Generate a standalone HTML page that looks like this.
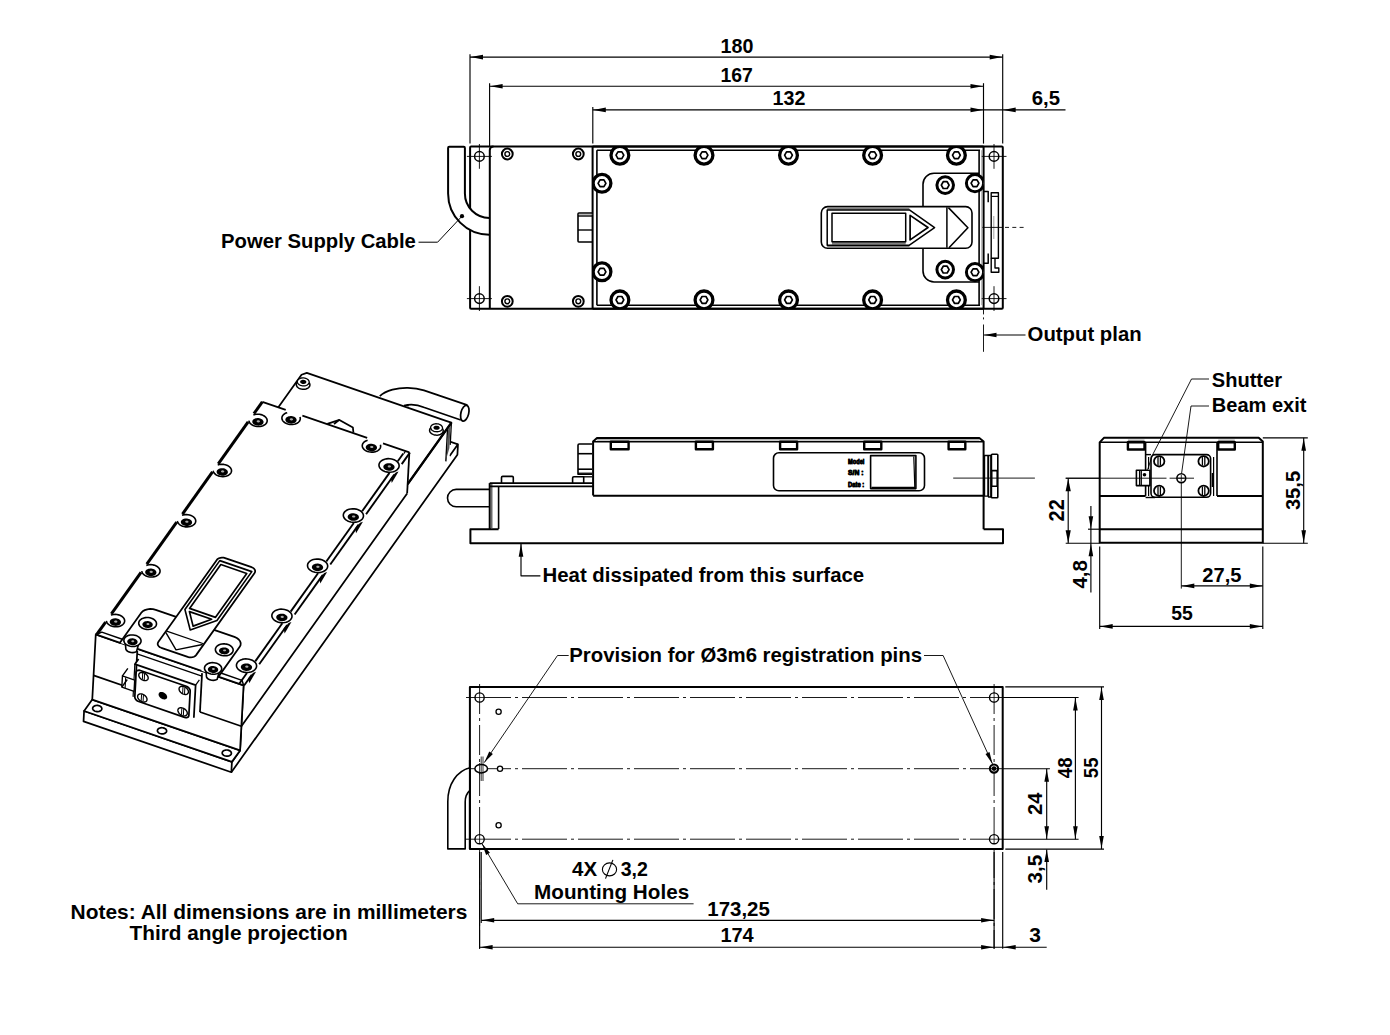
<!DOCTYPE html>
<html><head><meta charset="utf-8"><style>
html,body{margin:0;padding:0;background:#fff;}
svg{display:block;}
text{font-family:"Liberation Sans",sans-serif;fill:#000;stroke:none;}
</style></head><body>
<svg width="1390" height="1035" viewBox="0 0 1390 1035" stroke="#000" fill="none" stroke-linecap="butt" stroke-linejoin="round">
<rect x="0" y="0" width="1390" height="1035" fill="#fff" stroke="none"/>
<text x="720.5" y="52.6" font-size="21" font-weight="bold" textLength="32.84" lengthAdjust="spacingAndGlyphs">180</text>
<text x="720.5" y="81.6" font-size="21" font-weight="bold" textLength="32.34" lengthAdjust="spacingAndGlyphs">167</text>
<text x="772.5" y="105.4" font-size="21" font-weight="bold" textLength="32.84" lengthAdjust="spacingAndGlyphs">132</text>
<text x="1031.7" y="105.4" font-size="21" font-weight="bold" textLength="28.29" lengthAdjust="spacingAndGlyphs">6,5</text>
<text x="221.1" y="248" font-size="21" font-weight="bold" textLength="194.78" lengthAdjust="spacingAndGlyphs">Power Supply Cable</text>
<text x="1027.6" y="340.6" font-size="21" font-weight="bold" textLength="114.01" lengthAdjust="spacingAndGlyphs">Output plan</text>
<text x="1211.8" y="387" font-size="21" font-weight="bold" textLength="70.2" lengthAdjust="spacingAndGlyphs">Shutter</text>
<text x="1211.8" y="412" font-size="21" font-weight="bold" textLength="94.62" lengthAdjust="spacingAndGlyphs">Beam exit</text>
<text x="542.5" y="581.9" font-size="21" font-weight="bold" textLength="321.64" lengthAdjust="spacingAndGlyphs">Heat dissipated from this surface</text>
<text x="1202.3" y="581.8" font-size="21" font-weight="bold" textLength="39.17" lengthAdjust="spacingAndGlyphs">27,5</text>
<text x="1171.2" y="619.7" font-size="21" font-weight="bold" textLength="21.56" lengthAdjust="spacingAndGlyphs">55</text>
<text x="569.3" y="661.8" font-size="21" font-weight="bold" textLength="352.68" lengthAdjust="spacingAndGlyphs">Provision for Ø3m6 registration pins</text>
<text x="572.1" y="876" font-size="21" font-weight="bold" textLength="24.99" lengthAdjust="spacingAndGlyphs">4X</text>
<text x="620.7" y="876" font-size="21" font-weight="bold" textLength="27.19" lengthAdjust="spacingAndGlyphs">3,2</text>
<ellipse cx="609.5" cy="869.4" rx="7.1" ry="6.5" stroke-width="1.1" fill="none" />
<line x1="612.9" y1="859.9" x2="605.5" y2="878.6" stroke-width="1.1" />
<text x="534.1" y="899" font-size="21" font-weight="bold" textLength="155.08" lengthAdjust="spacingAndGlyphs">Mounting Holes</text>
<text x="707.3" y="915.5" font-size="21" font-weight="bold" textLength="62.53" lengthAdjust="spacingAndGlyphs">173,25</text>
<text x="720.4" y="942.3" font-size="21" font-weight="bold" textLength="33.34" lengthAdjust="spacingAndGlyphs">174</text>
<text x="1029.2" y="942.3" font-size="21" font-weight="bold">3</text>
<text x="70.6" y="919.3" font-size="21" font-weight="bold" textLength="396.74" lengthAdjust="spacingAndGlyphs">Notes: All dimensions are in millimeters</text>
<text x="129.5" y="939.8" font-size="21" font-weight="bold" textLength="218.12" lengthAdjust="spacingAndGlyphs">Third angle projection</text>
<text transform="translate(1299.7 510.1) rotate(-90)" x="0" y="0" font-size="21" font-weight="bold" textLength="39.17" lengthAdjust="spacingAndGlyphs">35,5</text>
<text transform="translate(1063.6 521.5) rotate(-90)" x="0" y="0" font-size="22" font-weight="bold" textLength="22.27" lengthAdjust="spacingAndGlyphs">22</text>
<text transform="translate(1087.3 588.6) rotate(-90)" x="0" y="0" font-size="21" font-weight="bold" textLength="28.59" lengthAdjust="spacingAndGlyphs">4,8</text>
<text transform="translate(1072.2 778.2) rotate(-90)" x="0" y="0" font-size="21" font-weight="bold" textLength="20.66" lengthAdjust="spacingAndGlyphs">48</text>
<text transform="translate(1097.7 778.2) rotate(-90)" x="0" y="0" font-size="21" font-weight="bold" textLength="20.66" lengthAdjust="spacingAndGlyphs">55</text>
<text transform="translate(1041.9 814.9) rotate(-90)" x="0" y="0" font-size="21" font-weight="bold" textLength="22.36" lengthAdjust="spacingAndGlyphs">24</text>
<text transform="translate(1041.9 883.4) rotate(-90)" x="0" y="0" font-size="21" font-weight="bold" textLength="28.69" lengthAdjust="spacingAndGlyphs">3,5</text>
<line x1="470" y1="54.2" x2="470" y2="143.6" stroke-width="1.15" />
<line x1="1002.7" y1="54.2" x2="1002.7" y2="143.6" stroke-width="1.15" />
<line x1="470" y1="57.1" x2="1002.7" y2="57.1" stroke-width="1.15" />
<path d="M470.5 57.1 L483 54.8 L483 59.4 Z" fill="#000" stroke="none"/>
<path d="M1002.2 57.1 L989.7 59.4 L989.7 54.8 Z" fill="#000" stroke="none"/>
<line x1="489.6" y1="83.2" x2="489.6" y2="146" stroke-width="1.15" />
<line x1="983.5" y1="83.2" x2="983.5" y2="143.6" stroke-width="1.15" />
<line x1="489.6" y1="86.2" x2="983.5" y2="86.2" stroke-width="1.15" />
<path d="M490.1 86.2 L502.6 83.9 L502.6 88.5 Z" fill="#000" stroke="none"/>
<path d="M983 86.2 L970.5 88.5 L970.5 83.9 Z" fill="#000" stroke="none"/>
<line x1="592.8" y1="107" x2="592.8" y2="143.6" stroke-width="1.15" />
<line x1="592.8" y1="109.9" x2="1065.5" y2="109.9" stroke-width="1.15" />
<path d="M593.3 109.9 L605.8 107.6 L605.8 112.2 Z" fill="#000" stroke="none"/>
<path d="M983 109.9 L970.5 112.2 L970.5 107.6 Z" fill="#000" stroke="none"/>
<path d="M1003.2 109.9 L1015.7 107.6 L1015.7 112.2 Z" fill="#000" stroke="none"/>
<rect x="470.1" y="146.5" width="532.7" height="162.3" rx="1" stroke-width="2" fill="none" />
<path d="M448.1 148 Q448.1 146.8 449.3 146.8 L463.7 146.8 Q464.9 146.8 464.9 148 L464.9 193.5 A24.4 24.4 0 0 0 489.3 217.9 L489.3 234.7 A41.2 41.2 0 0 1 448.1 193.5 Z" stroke-width="0" fill="#fff" stroke="none"/>
<path d="M489.3 234.7 A41.2 41.2 0 0 1 448.1 193.5 L448.1 148 Q448.1 146.8 449.3 146.8 L463.7 146.8 Q464.9 146.8 464.9 148 L464.9 193.5 A24.4 24.4 0 0 0 489.3 217.9" stroke-width="2" fill="none" />
<circle cx="462" cy="216.2" r="2.1" stroke-width="0" fill="#000" stroke="none"/>
<path d="M462 216.2 L437.6 242.2 L418.5 242.2" stroke-width="1" fill="none" />
<path d="M489.8 308.5 L489.8 150 Q490 146.6 493.5 146.6" stroke-width="2" fill="none" />
<line x1="592.6" y1="146.4" x2="592.6" y2="308.6" stroke-width="2" />
<circle cx="479.4" cy="156.4" r="4.8" stroke-width="1.5" fill="none" />
<line x1="466.9" y1="156.4" x2="491.9" y2="156.4" stroke-width="0.9" />
<line x1="479.4" y1="144" x2="479.4" y2="168.8" stroke-width="0.9" />
<circle cx="479.4" cy="298.6" r="4.8" stroke-width="1.5" fill="none" />
<line x1="466.9" y1="298.6" x2="491.9" y2="298.6" stroke-width="0.9" />
<line x1="479.4" y1="286.2" x2="479.4" y2="311" stroke-width="0.9" />
<circle cx="994" cy="156.4" r="4.8" stroke-width="1.5" fill="none" />
<line x1="981.5" y1="156.4" x2="1006.5" y2="156.4" stroke-width="0.9" />
<line x1="994" y1="144" x2="994" y2="168.8" stroke-width="0.9" />
<circle cx="994" cy="298.6" r="4.8" stroke-width="1.5" fill="none" />
<line x1="981.5" y1="298.6" x2="1006.5" y2="298.6" stroke-width="0.9" />
<line x1="994" y1="286.2" x2="994" y2="311" stroke-width="0.9" />
<circle cx="507.3" cy="154" r="5.4" stroke-width="2" fill="none" />
<circle cx="507.3" cy="154" r="2.4" stroke-width="1.4" fill="none" />
<circle cx="507.3" cy="301.3" r="5.4" stroke-width="2" fill="none" />
<circle cx="507.3" cy="301.3" r="2.4" stroke-width="1.4" fill="none" />
<circle cx="578.3" cy="154" r="5.4" stroke-width="2" fill="none" />
<circle cx="578.3" cy="154" r="2.4" stroke-width="1.4" fill="none" />
<circle cx="578.3" cy="301.3" r="5.4" stroke-width="2" fill="none" />
<circle cx="578.3" cy="301.3" r="2.4" stroke-width="1.4" fill="none" />
<path d="M592.5 213 L579 213 Q578 213 578 214 L578 241 Q578 242 579 242 L592.5 242" stroke-width="1.6" fill="none" />
<line x1="578" y1="216" x2="592.5" y2="216" stroke-width="1.4" />
<line x1="578" y1="230" x2="592.5" y2="230" stroke-width="1.4" />
<line x1="578.6" y1="214.4" x2="592.5" y2="214.4" stroke-width="0.6" stroke="#777"/>
<clipPath id="cv"><rect x="592.6" y="146.4" width="391" height="162.2"/></clipPath>
<line x1="596.9" y1="150.2" x2="596.9" y2="305.2" stroke-width="1.6" />
<line x1="596.9" y1="150.2" x2="980" y2="150.2" stroke-width="1.6" />
<line x1="596.9" y1="305.2" x2="980" y2="305.2" stroke-width="1.6" />
<line x1="983.6" y1="146.4" x2="983.6" y2="308.6" stroke-width="2" />
<line x1="979.1" y1="150.2" x2="979.1" y2="305.2" stroke-width="1.6" />
<line x1="981.7" y1="150.2" x2="981.7" y2="305.2" stroke-width="0.7" stroke="#888"/>
<path d="M979 173.3 L934 173.3 A11 11 0 0 0 923 184.3 L923 271 A11 11 0 0 0 934 282 L979 282" stroke-width="1.6" fill="none" />
<g clip-path="url(#cv)">
<circle cx="619.9" cy="155.2" r="8.9" stroke-width="3.3" fill="#fff" />
<path d="M623.8 155.2 L621.85 158.58 L617.95 158.58 L616 155.2 L617.95 151.82 L621.85 151.82 Z" stroke-width="1.7" fill="none" />
<circle cx="619.9" cy="299.9" r="8.9" stroke-width="3.3" fill="#fff" />
<path d="M623.8 299.9 L621.85 303.28 L617.95 303.28 L616 299.9 L617.95 296.52 L621.85 296.52 Z" stroke-width="1.7" fill="none" />
<circle cx="704" cy="155.2" r="8.9" stroke-width="3.3" fill="#fff" />
<path d="M707.9 155.2 L705.95 158.58 L702.05 158.58 L700.1 155.2 L702.05 151.82 L705.95 151.82 Z" stroke-width="1.7" fill="none" />
<circle cx="704" cy="299.9" r="8.9" stroke-width="3.3" fill="#fff" />
<path d="M707.9 299.9 L705.95 303.28 L702.05 303.28 L700.1 299.9 L702.05 296.52 L705.95 296.52 Z" stroke-width="1.7" fill="none" />
<circle cx="788.5" cy="155.2" r="8.9" stroke-width="3.3" fill="#fff" />
<path d="M792.4 155.2 L790.45 158.58 L786.55 158.58 L784.6 155.2 L786.55 151.82 L790.45 151.82 Z" stroke-width="1.7" fill="none" />
<circle cx="788.5" cy="299.9" r="8.9" stroke-width="3.3" fill="#fff" />
<path d="M792.4 299.9 L790.45 303.28 L786.55 303.28 L784.6 299.9 L786.55 296.52 L790.45 296.52 Z" stroke-width="1.7" fill="none" />
<circle cx="872.6" cy="155.2" r="8.9" stroke-width="3.3" fill="#fff" />
<path d="M876.5 155.2 L874.55 158.58 L870.65 158.58 L868.7 155.2 L870.65 151.82 L874.55 151.82 Z" stroke-width="1.7" fill="none" />
<circle cx="872.6" cy="299.9" r="8.9" stroke-width="3.3" fill="#fff" />
<path d="M876.5 299.9 L874.55 303.28 L870.65 303.28 L868.7 299.9 L870.65 296.52 L874.55 296.52 Z" stroke-width="1.7" fill="none" />
<circle cx="956.4" cy="155.2" r="8.9" stroke-width="3.3" fill="#fff" />
<path d="M960.3 155.2 L958.35 158.58 L954.45 158.58 L952.5 155.2 L954.45 151.82 L958.35 151.82 Z" stroke-width="1.7" fill="none" />
<circle cx="956.4" cy="299.9" r="8.9" stroke-width="3.3" fill="#fff" />
<path d="M960.3 299.9 L958.35 303.28 L954.45 303.28 L952.5 299.9 L954.45 296.52 L958.35 296.52 Z" stroke-width="1.7" fill="none" />
<circle cx="602" cy="183.3" r="8.9" stroke-width="3.3" fill="#fff" />
<path d="M605.9 183.3 L603.95 186.68 L600.05 186.68 L598.1 183.3 L600.05 179.92 L603.95 179.92 Z" stroke-width="1.7" fill="none" />
<circle cx="602" cy="271.8" r="8.9" stroke-width="3.3" fill="#fff" />
<path d="M605.9 271.8 L603.95 275.18 L600.05 275.18 L598.1 271.8 L600.05 268.42 L603.95 268.42 Z" stroke-width="1.7" fill="none" />
<circle cx="945.2" cy="185.1" r="8.3" stroke-width="3" fill="#fff" />
<path d="M949.1 185.1 L947.15 188.48 L943.25 188.48 L941.3 185.1 L943.25 181.72 L947.15 181.72 Z" stroke-width="1.7" fill="none" />
<circle cx="945.2" cy="269.6" r="8.3" stroke-width="3" fill="#fff" />
<path d="M949.1 269.6 L947.15 272.98 L943.25 272.98 L941.3 269.6 L943.25 266.22 L947.15 266.22 Z" stroke-width="1.7" fill="none" />
<circle cx="975" cy="183.2" r="8.6" stroke-width="3" fill="#fff" />
<path d="M978.9 183.2 L976.95 186.58 L973.05 186.58 L971.1 183.2 L973.05 179.82 L976.95 179.82 Z" stroke-width="1.7" fill="none" />
<circle cx="975" cy="272.2" r="8.6" stroke-width="3" fill="#fff" />
<path d="M978.9 272.2 L976.95 275.58 L973.05 275.58 L971.1 272.2 L973.05 268.82 L976.95 268.82 Z" stroke-width="1.7" fill="none" />
</g>
<line x1="592.6" y1="146.4" x2="983.6" y2="146.4" stroke-width="2" />
<line x1="592.6" y1="308.8" x2="983.6" y2="308.8" stroke-width="2" />
<path d="M827.6 206.6 L965.7 206.6 A6.3 6.3 0 0 1 972 212.9 L972 242 A6.3 6.3 0 0 1 965.7 248.3 L827.6 248.3 A6.3 6.3 0 0 1 821.3 242 L821.3 212.9 A6.3 6.3 0 0 1 827.6 206.6 Z" stroke-width="1.6" fill="#fff" />
<path d="M827.2 207.5 L909.4 207.5 L909.4 209.8 L827.2 209.8 Z" stroke-width="0" fill="#808080" stroke="none"/>
<path d="M827.2 245.3 L909.4 245.3 L909.4 247.5 L827.2 247.5 Z" stroke-width="0" fill="#808080" stroke="none"/>
<path d="M832 241.8 L905.7 241.8 L905.7 244.6 L832 244.6 Z" stroke-width="0" fill="#808080" stroke="none"/>
<path d="M827.2 209.9 L909.4 209.9 L934.6 227.6 L909.4 245.2 L827.2 245.2 Z" stroke-width="1.5" fill="none" />
<rect x="832" y="213.2" width="73.7" height="28.6" rx="0" stroke-width="1.5" fill="none" />
<path d="M910.1 215.4 L928 227.5 L910.1 239.9 Z" stroke-width="1.7" fill="none" />
<line x1="946.9" y1="207.2" x2="946.9" y2="247.8" stroke-width="1.5" />
<path d="M948.4 207.6 L967.9 227.7 L949 247.8" stroke-width="1.6" fill="none" />
<path d="M983.6 191.6 L988.2 191.6 L988.2 202.2" stroke-width="1.5" fill="none" />
<path d="M983.6 263.2 L988.2 263.2 L988.2 253.5" stroke-width="1.5" fill="none" />
<rect x="991.2" y="192.8" width="7.2" height="65.5" rx="0" stroke-width="1.4" fill="none" />
<line x1="991.2" y1="196.4" x2="998.4" y2="196.4" stroke-width="1.2" />
<line x1="993.8" y1="216" x2="993.8" y2="239" stroke-width="0.8" stroke="#888"/>
<path d="M991.2 258.3 L991.2 272.3 L998.8 272.3 L998.8 268 L995 268 L995 259" stroke-width="1.4" fill="none" />
<line x1="982.4" y1="227.4" x2="1003" y2="227.4" stroke-width="0.9" />
<line x1="1005" y1="227.4" x2="1025.4" y2="227.4" stroke-width="0.9" stroke-dasharray="4 3.3"/>
<line x1="983.5" y1="309" x2="983.5" y2="314.4" stroke-width="0.9" />
<line x1="983.5" y1="317.4" x2="983.5" y2="319.4" stroke-width="0.9" />
<line x1="983.5" y1="324.5" x2="983.5" y2="351.8" stroke-width="0.9" />
<path d="M984 335 L996.5 332.7 L996.5 337.3 Z" fill="#000" stroke="none"/>
<line x1="984" y1="335" x2="1025.5" y2="335" stroke-width="1.15" />
<path d="M498.6 529.2 L470.4 529.2 L470.4 543.2 L1003 543.2 L1003 529.2 L983.6 529.2" stroke-width="2" fill="none" />
<path d="M489.3 489.4 L456.2 489.4 A8.7 8.7 0 0 0 456.2 506.8 L489.3 506.8" stroke-width="1.6" fill="none" />
<path d="M489.7 529 L489.7 483.1" stroke-width="2" fill="none" />
<line x1="491.8" y1="484" x2="491.8" y2="528.6" stroke-width="1.2" stroke="#444"/>
<line x1="498.6" y1="486.3" x2="498.6" y2="529" stroke-width="1.6" />
<line x1="489.7" y1="483.1" x2="593" y2="483.1" stroke-width="1.6" />
<line x1="489.7" y1="486.4" x2="593" y2="486.4" stroke-width="1.6" />
<path d="M501.5 483.1 L501.5 477.6 Q501.5 476.4 502.7 476.4 L512.1 476.4 Q513.3 476.4 513.3 477.6 L513.3 483.1" stroke-width="1.6" fill="none" />
<path d="M572.6 483.1 L572.6 478 Q572.6 476.8 573.8 476.8 L583.7 476.8 L583.7 483.1" stroke-width="1.6" fill="none" />
<line x1="583.7" y1="476.8" x2="592.4" y2="476.8" stroke-width="1.3" />
<path d="M592 444 L579.2 444 Q578 444 578 445.2 L578 474.2 L592 474.2" stroke-width="1.6" fill="none" />
<line x1="578" y1="453.7" x2="592" y2="453.7" stroke-width="1.6" />
<line x1="578" y1="469.2" x2="592" y2="469.2" stroke-width="1.6" />
<line x1="578" y1="473.2" x2="592" y2="473.2" stroke-width="1.2" />
<path d="M593.1 495.5 L593.1 441.5 L597 437.9 L979.3 437.9 L983.6 441.6 L983.6 529.2" stroke-width="2" fill="none" />
<line x1="593.1" y1="441.8" x2="983.6" y2="441.8" stroke-width="1.6" />
<line x1="593.1" y1="495.7" x2="983.6" y2="495.7" stroke-width="2" />
<line x1="597" y1="439.9" x2="979.3" y2="439.9" stroke-width="1.2" stroke="#999"/>
<rect x="610.8" y="441.8" width="17.8" height="7.5" rx="0" stroke-width="2.4" fill="none" />
<rect x="695.9" y="441.8" width="17" height="7.5" rx="0" stroke-width="2.4" fill="none" />
<rect x="780.1" y="441.8" width="17" height="7.5" rx="0" stroke-width="2.4" fill="none" />
<rect x="864.2" y="441.8" width="17.1" height="7.5" rx="0" stroke-width="2.4" fill="none" />
<rect x="948.6" y="441.8" width="16.7" height="7.5" rx="0" stroke-width="2.4" fill="none" />
<rect x="773.5" y="452.8" width="151" height="38" rx="5.4" stroke-width="1.6" fill="none" />
<rect x="870.6" y="455.6" width="45.3" height="33" rx="0" stroke-width="1.6" fill="none" />
<line x1="913.8" y1="456.5" x2="914.8" y2="488" stroke-width="1.2" />
<line x1="871.5" y1="487.4" x2="915" y2="487.4" stroke-width="1.2" />
<text x="848" y="463.8" font-size="7.2" font-weight="bold" textLength="16.4" lengthAdjust="spacingAndGlyphs" style="stroke:#000;stroke-width:0.9;stroke-linejoin:round">Model</text>
<text x="848" y="475.4" font-size="7.2" font-weight="bold" textLength="15.4" lengthAdjust="spacingAndGlyphs" style="stroke:#000;stroke-width:0.9;stroke-linejoin:round">S/N :</text>
<text x="848" y="487.0" font-size="7.2" font-weight="bold" textLength="16.2" lengthAdjust="spacingAndGlyphs" style="stroke:#000;stroke-width:0.9;stroke-linejoin:round">Date :</text>
<rect x="984.5" y="455.5" width="3.5" height="40.6" rx="0" stroke-width="1.4" fill="none" />
<rect x="988.5" y="455.5" width="2.4" height="41.5" rx="0" stroke-width="1.4" fill="none" />
<rect x="991.4" y="454.3" width="6.4" height="43.5" rx="0.8" stroke-width="1.6" fill="none" />
<rect x="991.6" y="470.6" width="5.6" height="15.6" rx="0" stroke-width="1.6" fill="none" />
<line x1="953.2" y1="478.1" x2="1034.9" y2="478.1" stroke-width="0.9" />
<path d="M521 543.8 L523.3 556.8 L518.7 556.8 Z" fill="#000" stroke="none"/>
<path d="M521 543.8 L521 575.8 L540.4 575.8" stroke-width="1.15" fill="none" />
<path d="M1099.7 542.8 L1099.7 442.4 L1103.9 437.8 L1258.7 437.8 L1262.8 441.6 L1262.8 542.8 Z" stroke-width="2" fill="none" />
<line x1="1099.7" y1="442.3" x2="1262.8" y2="442.3" stroke-width="1.6" />
<rect x="1127.9" y="439.6" width="16.6" height="1.6" rx="0" stroke-width="0" fill="#999" stroke="none"/>
<rect x="1218.2" y="439.6" width="16.6" height="1.6" rx="0" stroke-width="0" fill="#999" stroke="none"/>
<rect x="1127.9" y="442.3" width="16.6" height="7.2" rx="0" stroke-width="2.4" fill="none" />
<rect x="1218.2" y="442.3" width="16.6" height="7.2" rx="0" stroke-width="2.4" fill="none" />
<line x1="1145.6" y1="442.3" x2="1145.6" y2="495.9" stroke-width="1.6" />
<line x1="1217" y1="442.3" x2="1217" y2="495.9" stroke-width="1.6" />
<line x1="1099.7" y1="495.9" x2="1145.6" y2="495.9" stroke-width="2" />
<line x1="1217" y1="495.9" x2="1262.8" y2="495.9" stroke-width="2" />
<line x1="1099.7" y1="529.2" x2="1262.8" y2="529.2" stroke-width="2" />
<path d="M1155 454.6 L1206.6 454.6 A4 4 0 0 1 1210.6 458.6 L1210.6 493.3 A4 4 0 0 1 1206.6 497.3 L1155 497.3 A4 4 0 0 1 1151 493.3 L1151 458.6 A4 4 0 0 1 1155 454.6 Z" stroke-width="1.6" fill="#fff" />
<line x1="1145.6" y1="454.6" x2="1151" y2="454.6" stroke-width="1.4" />
<line x1="1145.6" y1="497.5" x2="1155" y2="497.5" stroke-width="1.4" />
<line x1="1213.6" y1="457" x2="1213.6" y2="496" stroke-width="1.2" />
<line x1="1212.6" y1="473" x2="1212.6" y2="487" stroke-width="1.8" />
<line x1="1148.6" y1="457" x2="1148.6" y2="469" stroke-width="1.2" />
<line x1="1148.6" y1="486" x2="1148.6" y2="496" stroke-width="1.2" />
<circle cx="1159.2" cy="461.3" r="5.2" stroke-width="1.8" fill="#fff" />
<line x1="1158" y1="457.1" x2="1158" y2="465.5" stroke-width="1.3" />
<line x1="1160.4" y1="457.1" x2="1160.4" y2="465.5" stroke-width="1.3" />
<circle cx="1159.2" cy="490.8" r="5.2" stroke-width="1.8" fill="#fff" />
<line x1="1158" y1="486.6" x2="1158" y2="495" stroke-width="1.3" />
<line x1="1160.4" y1="486.6" x2="1160.4" y2="495" stroke-width="1.3" />
<circle cx="1203.6" cy="461.3" r="5.2" stroke-width="1.8" fill="#fff" />
<line x1="1202.4" y1="457.1" x2="1202.4" y2="465.5" stroke-width="1.3" />
<line x1="1204.8" y1="457.1" x2="1204.8" y2="465.5" stroke-width="1.3" />
<circle cx="1203.6" cy="490.8" r="5.2" stroke-width="1.8" fill="#fff" />
<line x1="1202.4" y1="486.6" x2="1202.4" y2="495" stroke-width="1.3" />
<line x1="1204.8" y1="486.6" x2="1204.8" y2="495" stroke-width="1.3" />
<rect x="1136.4" y="470.2" width="13.5" height="15.4" rx="0" stroke-width="1.6" fill="#fff" />
<line x1="1139.5" y1="471" x2="1139.5" y2="485" stroke-width="1.1" />
<line x1="1141.2" y1="470.5" x2="1141.2" y2="485.5" stroke-width="1.4" />
<circle cx="1144.5" cy="474.7" r="1.8" stroke-width="0" fill="#000" stroke="none"/>
<circle cx="1181.3" cy="478.2" r="4.4" stroke-width="1.6" fill="none" />
<line x1="1178" y1="478.2" x2="1184.6" y2="478.2" stroke-width="0.8" />
<line x1="1181.3" y1="475" x2="1181.3" y2="481.4" stroke-width="0.8" />
<line x1="1065.7" y1="478.2" x2="1166.5" y2="478.2" stroke-width="0.9" />
<line x1="1169.6" y1="478.2" x2="1194" y2="478.2" stroke-width="0.9" />
<line x1="1181.3" y1="482.6" x2="1181.3" y2="588.6" stroke-width="0.9" />
<path d="M1181.6 473.3 L1191 406 L1209 406" stroke-width="0.9" fill="none" />
<path d="M1147.6 469.8 Q1150 462 1153 454 L1166.5 428 L1191.5 379 L1209 379" stroke-width="0.9" fill="none" />
<line x1="1262.8" y1="437.8" x2="1307.8" y2="437.8" stroke-width="1.15" />
<line x1="1262.8" y1="543.2" x2="1307.8" y2="543.2" stroke-width="1.15" />
<line x1="1303.7" y1="437.8" x2="1303.7" y2="543.2" stroke-width="1.15" />
<path d="M1303.7 438.3 L1306 450.8 L1301.4 450.8 Z" fill="#000" stroke="none"/>
<path d="M1303.7 542.7 L1301.4 530.2 L1306 530.2 Z" fill="#000" stroke="none"/>
<line x1="1065.7" y1="543.2" x2="1099.7" y2="543.2" stroke-width="1.15" />
<line x1="1065.7" y1="478.2" x2="1099.7" y2="478.2" stroke-width="1.15" />
<line x1="1068.2" y1="478.2" x2="1068.2" y2="543.2" stroke-width="1.15" />
<path d="M1068.2 478.7 L1070.8 491.2 L1065.6 491.2 Z" fill="#000" stroke="none"/>
<path d="M1068.2 542.7 L1065.6 530.2 L1070.8 530.2 Z" fill="#000" stroke="none"/>
<line x1="1088" y1="529.2" x2="1099.7" y2="529.2" stroke-width="1.15" />
<line x1="1090.9" y1="506" x2="1090.9" y2="592.6" stroke-width="1.15" />
<path d="M1090.9 528.7 L1088.6 516.2 L1093.2 516.2 Z" fill="#000" stroke="none"/>
<path d="M1090.9 543.7 L1093.2 556.2 L1088.6 556.2 Z" fill="#000" stroke="none"/>
<line x1="1099.7" y1="546.6" x2="1099.7" y2="629" stroke-width="1.15" />
<line x1="1262.8" y1="546.6" x2="1262.8" y2="629" stroke-width="1.15" />
<line x1="1099.7" y1="626.4" x2="1262.8" y2="626.4" stroke-width="1.15" />
<path d="M1100.2 626.4 L1112.7 624.1 L1112.7 628.7 Z" fill="#000" stroke="none"/>
<path d="M1262.3 626.4 L1249.8 628.7 L1249.8 624.1 Z" fill="#000" stroke="none"/>
<line x1="1181.3" y1="585.9" x2="1262.8" y2="585.9" stroke-width="1.15" />
<path d="M1181.8 585.9 L1194.3 583.6 L1194.3 588.2 Z" fill="#000" stroke="none"/>
<path d="M1262.3 585.9 L1249.8 588.2 L1249.8 583.6 Z" fill="#000" stroke="none"/>
<rect x="469.9" y="686.9" width="532.8" height="162.2" rx="0" stroke-width="2" fill="none" />
<line x1="466" y1="697.5" x2="1003" y2="697.5" stroke-width="0.9" stroke-dasharray="45 4 3 4"/>
<line x1="466" y1="768.7" x2="1003" y2="768.7" stroke-width="0.9" stroke-dasharray="45 4 3 4"/>
<line x1="466" y1="839.2" x2="1003" y2="839.2" stroke-width="0.9" stroke-dasharray="45 4 3 4"/>
<line x1="479.6" y1="684" x2="479.6" y2="948.8" stroke-width="0.9" stroke-dasharray="30 4 3 4"/>
<line x1="994.1" y1="684" x2="994.1" y2="948.8" stroke-width="0.9" stroke-dasharray="30 4 3 4"/>
<line x1="1002.7" y1="697.5" x2="1078.6" y2="697.5" stroke-width="1.15" />
<line x1="1002.7" y1="839.2" x2="1078.6" y2="839.2" stroke-width="1.15" />
<line x1="1002.7" y1="768.7" x2="1049.9" y2="768.7" stroke-width="1.15" />
<line x1="1005.3" y1="686.9" x2="1104" y2="686.9" stroke-width="1.15" />
<line x1="1005.3" y1="849.1" x2="1104" y2="849.1" stroke-width="1.15" />
<circle cx="479.6" cy="697.5" r="4.6" stroke-width="1.4" fill="#fff" />
<line x1="474.6" y1="697.5" x2="484.6" y2="697.5" stroke-width="0.8" />
<line x1="479.6" y1="692.5" x2="479.6" y2="702.5" stroke-width="0.8" />
<circle cx="479.6" cy="839.2" r="4.6" stroke-width="1.4" fill="#fff" />
<line x1="474.6" y1="839.2" x2="484.6" y2="839.2" stroke-width="0.8" />
<line x1="479.6" y1="834.2" x2="479.6" y2="844.2" stroke-width="0.8" />
<circle cx="994.1" cy="697.5" r="4.6" stroke-width="1.4" fill="#fff" />
<line x1="989.1" y1="697.5" x2="999.1" y2="697.5" stroke-width="0.8" />
<line x1="994.1" y1="692.5" x2="994.1" y2="702.5" stroke-width="0.8" />
<circle cx="994.1" cy="839.2" r="4.6" stroke-width="1.4" fill="#fff" />
<line x1="989.1" y1="839.2" x2="999.1" y2="839.2" stroke-width="0.8" />
<line x1="994.1" y1="834.2" x2="994.1" y2="844.2" stroke-width="0.8" />
<ellipse cx="481.2" cy="768.7" rx="6.3" ry="4.3" stroke-width="1.5" fill="#fff" />
<line x1="479.6" y1="763" x2="479.6" y2="774.5" stroke-width="0.8" />
<line x1="481.2" y1="756.5" x2="481.2" y2="781" stroke-width="0.8" />
<line x1="483" y1="756.5" x2="483" y2="781" stroke-width="0.8" />
<circle cx="994" cy="768.6" r="4.1" stroke-width="2.2" fill="#fff" />
<circle cx="994" cy="768.6" r="2.4" stroke-width="0" fill="#000" stroke="none"/>
<line x1="989" y1="768.7" x2="999" y2="768.7" stroke-width="0.8" />
<circle cx="498.6" cy="711.7" r="2.6" stroke-width="1.3" fill="#fff" />
<circle cx="500" cy="768.7" r="2.6" stroke-width="1.3" fill="#fff" />
<circle cx="498.6" cy="825.2" r="2.6" stroke-width="1.3" fill="#fff" />
<path d="M469.9 767.8 C457 771, 447.8 784, 447.8 801.7 L447.8 848.9 L465.2 848.9 L465.2 801.7 C465.2 797, 467 793, 469.9 790.4" stroke-width="1.6" fill="#fff" />
<line x1="469.9" y1="760" x2="469.9" y2="849" stroke-width="2" />
<line x1="1101.5" y1="686.9" x2="1101.5" y2="849.1" stroke-width="1.15" />
<path d="M1101.5 687.4 L1103.8 699.9 L1099.2 699.9 Z" fill="#000" stroke="none"/>
<path d="M1101.5 848.6 L1099.2 836.1 L1103.8 836.1 Z" fill="#000" stroke="none"/>
<line x1="1075.4" y1="697.5" x2="1075.4" y2="839.2" stroke-width="1.15" />
<path d="M1075.4 698 L1077.7 710.5 L1073.1 710.5 Z" fill="#000" stroke="none"/>
<path d="M1075.4 838.7 L1073.1 826.2 L1077.7 826.2 Z" fill="#000" stroke="none"/>
<line x1="1046.7" y1="768.7" x2="1046.7" y2="839.2" stroke-width="1.15" />
<path d="M1046.7 769.2 L1049 781.7 L1044.4 781.7 Z" fill="#000" stroke="none"/>
<path d="M1046.7 838.7 L1044.4 826.2 L1049 826.2 Z" fill="#000" stroke="none"/>
<line x1="1046.7" y1="849.6" x2="1046.7" y2="889.8" stroke-width="1.15" />
<path d="M1046.7 849.6 L1049 862.1 L1044.4 862.1 Z" fill="#000" stroke="none"/>
<line x1="481.2" y1="852" x2="481.2" y2="923" stroke-width="1.15" />
<line x1="479.6" y1="852" x2="479.6" y2="948.8" stroke-width="1.15" />
<line x1="994.1" y1="852" x2="994.1" y2="948.8" stroke-width="1.15" />
<line x1="1002.7" y1="852" x2="1002.7" y2="948.8" stroke-width="1.15" />
<line x1="481.2" y1="920.3" x2="994.1" y2="920.3" stroke-width="1.15" />
<path d="M481.7 920.3 L494.2 918 L494.2 922.6 Z" fill="#000" stroke="none"/>
<path d="M993.6 920.3 L981.1 922.6 L981.1 918 Z" fill="#000" stroke="none"/>
<line x1="479.6" y1="947.2" x2="1046.7" y2="947.2" stroke-width="1.15" />
<path d="M480.1 947.2 L492.6 944.9 L492.6 949.5 Z" fill="#000" stroke="none"/>
<path d="M993.6 947.2 L981.1 949.5 L981.1 944.9 Z" fill="#000" stroke="none"/>
<path d="M1003.2 947.2 L1015.7 944.9 L1015.7 949.5 Z" fill="#000" stroke="none"/>
<path d="M568.7 655.5 L557.5 655.5 L484.3 762.6" stroke-width="0.9" fill="none" />
<path d="M484.3 762.6 L489.25 751.45 L492.89 753.93 Z" fill="#000" stroke="none"/>
<path d="M924 655.5 L943.1 655.5 L992.5 763.9" stroke-width="0.9" fill="none" />
<path d="M992.5 763.9 L985.52 753.89 L989.53 752.07 Z" fill="#000" stroke="none"/>
<path d="M693.6 903.8 L517.7 903.8 L481.9 843.5" stroke-width="0.9" fill="none" />
<path d="M481.9 843.5 L489.92 852.7 L486.13 854.94 Z" fill="#000" stroke="none"/>
<path d="M379.8 396.1 C386 390, 398 387.6, 407.8 387.8 C414 388, 419 388.8, 424 390.4 L467.4 405.2 L461 420 L424.4 407.5 C418 404.8, 410 404.3, 404.7 405.2 Z" stroke-width="0" fill="#fff" stroke="none"/>
<path d="M379.8 396.1 C386 390, 398 387.6, 407.8 387.8 C414 388, 419 388.8, 424 390.4 L467.4 405.2" stroke-width="1.75" fill="none" />
<path d="M404 405.6 C410 404.1, 418 404.8, 424.4 407.5 L460.8 420" stroke-width="1.75" fill="none" />
<path d="M404 405.6 L409 404.6 L408.5 406.6 Z" stroke-width="0" fill="#000" stroke="none"/>
<ellipse cx="464.8" cy="413.2" rx="3.9" ry="8.1" stroke-width="1.75" fill="#fff" transform="rotate(14 464.8 413.2)"/>
<path d="M83.54 721.37 L231.35 772.22 L231.91 761.87 L84.09 711.02 Z" stroke-width="1.75" fill="#fff" />
<path d="M231.35 772.22 L457.4 454.68 L457.96 444.33 L449.6 456.06" stroke-width="1.75" fill="#fff" />
<path d="M240.07 750.4 L231.91 761.87" stroke-width="1.75" fill="none" />
<path d="M84.09 711.02 L92.26 699.55 L240.07 750.4 L231.91 761.87 Z" stroke-width="1.75" fill="#fff" />
<path d="M457.96 444.33 L433.77 436.01 L425.42 447.74" stroke-width="1.75" fill="none" />
<path d="M95.3 711.25 L96.06 711.46 L96.85 711.58 L97.65 711.6 L98.44 711.53 L99.19 711.37 L99.88 711.13 L100.5 710.8 L101.01 710.4 L101.42 709.95 L101.69 709.46 L101.83 708.93 L101.83 708.39 L101.69 707.86 L101.42 707.35 L101.02 706.87 L100.5 706.44 L99.89 706.07 L99.2 705.78 L98.44 705.58 L97.65 705.46 L96.85 705.43 L96.06 705.5 L95.31 705.66 L94.62 705.91 L94 706.24 L93.49 706.63 L93.08 707.09 L92.81 707.58 L92.67 708.11 L92.67 708.65 L92.81 709.18 L93.08 709.69 L93.48 710.17 L94 710.6 L94.61 710.96 Z" stroke-width="1.7" fill="#fff" />
<path d="M160.07 733.53 L160.83 733.74 L161.62 733.86 L162.42 733.88 L163.21 733.82 L163.96 733.65 L164.66 733.41 L165.27 733.08 L165.79 732.69 L166.19 732.23 L166.46 731.74 L166.6 731.21 L166.6 730.67 L166.46 730.14 L166.19 729.63 L165.79 729.15 L165.27 728.72 L164.66 728.36 L163.97 728.06 L163.21 727.86 L162.43 727.74 L161.62 727.71 L160.83 727.78 L160.08 727.94 L159.39 728.19 L158.77 728.52 L158.26 728.91 L157.86 729.37 L157.58 729.86 L157.44 730.39 L157.44 730.93 L157.58 731.46 L157.85 731.97 L158.25 732.45 L158.77 732.88 L159.38 733.24 Z" stroke-width="1.7" fill="#fff" />
<path d="M224.85 755.81 L225.6 756.02 L226.39 756.14 L227.19 756.16 L227.98 756.1 L228.73 755.94 L229.43 755.69 L230.04 755.36 L230.56 754.97 L230.96 754.51 L231.23 754.02 L231.37 753.49 L231.37 752.95 L231.23 752.42 L230.96 751.91 L230.56 751.43 L230.05 751 L229.43 750.64 L228.74 750.35 L227.99 750.14 L227.2 750.02 L226.39 750 L225.61 750.06 L224.85 750.22 L224.16 750.47 L223.54 750.8 L223.03 751.19 L222.63 751.65 L222.35 752.14 L222.21 752.67 L222.21 753.21 L222.35 753.74 L222.62 754.25 L223.02 754.73 L223.54 755.16 L224.15 755.52 Z" stroke-width="1.7" fill="#fff" />
<path d="M451.4 422.65 L449.6 456.06 L405.84 517.54 L407.64 484.13 Z" stroke-width="0" fill="#fff" stroke="none"/>
<path d="M446.03 420.8 L451.4 422.65 L407.64 484.13 L259.82 433.28 L301.51 374.71 L306.81 372.91 Z" stroke-width="1.75" fill="#fff" />
<path d="M451.4 422.65 L450.21 444.85" stroke-width="1.3" fill="none" />
<path d="M447.54 429.66 L445.84 461.35" stroke-width="1.4" fill="none" />
<path d="M450.63 425.13 L448.07 429.52 L446.54 457.97 L449.4 447.98 Z" stroke-width="0" fill="#555" stroke="none"/>
<path d="M451.4 422.65 L407.64 484.13" stroke-width="2.4" fill="none" />
<path d="M300.21 388.76 L301.33 389.07 L302.5 389.24 L303.69 389.28 L304.86 389.18 L305.98 388.94 L307.01 388.57 L307.92 388.09 L308.69 387.5 L309.28 386.83 L309.69 386.09 L309.9 385.31 L309.9 384.51 L309.69 383.72 L309.29 382.96 L308.69 382.25 L307.93 381.62 L307.02 381.07 L305.99 380.64 L304.87 380.34 L303.7 380.16 L302.51 380.12 L301.34 380.23 L300.22 380.46 L299.19 380.83 L298.28 381.31 L297.52 381.9 L296.92 382.57 L296.51 383.31 L296.3 384.09 L296.3 384.89 L296.51 385.68 L296.92 386.44 L297.51 387.15 L298.27 387.79 L299.18 388.33 Z" stroke-width="1.5" fill="#fff" />
<path d="M300.74 385.43 L301.71 385.69 L302.73 385.85 L303.76 385.88 L304.78 385.79 L305.76 385.58 L306.65 385.26 L307.44 384.84 L308.11 384.33 L308.63 383.75 L308.98 383.11 L309.16 382.43 L309.16 381.74 L308.98 381.05 L308.63 380.38 L308.12 379.77 L307.45 379.22 L306.66 378.74 L305.76 378.37 L304.79 378.1 L303.77 377.95 L302.74 377.92 L301.72 378.01 L300.75 378.21 L299.85 378.53 L299.06 378.95 L298.4 379.46 L297.88 380.05 L297.52 380.69 L297.34 381.37 L297.34 382.06 L297.52 382.75 L297.87 383.41 L298.39 384.03 L299.05 384.58 L299.85 385.05 Z" stroke-width="1.3" fill="#fff" />
<path d="M301.93 383.75 L302.44 383.89 L302.98 383.97 L303.52 383.99 L304.06 383.94 L304.57 383.83 L305.04 383.67 L305.45 383.44 L305.8 383.18 L306.07 382.87 L306.26 382.53 L306.36 382.18 L306.36 381.81 L306.26 381.45 L306.08 381.1 L305.81 380.78 L305.46 380.49 L305.04 380.24 L304.57 380.05 L304.06 379.91 L303.53 379.83 L302.98 379.81 L302.45 379.86 L301.94 379.96 L301.47 380.13 L301.05 380.35 L300.7 380.62 L300.43 380.93 L300.24 381.26 L300.15 381.62 L300.15 381.98 L300.24 382.35 L300.43 382.69 L300.7 383.02 L301.05 383.31 L301.46 383.55 Z" stroke-width="0" fill="#000" stroke="none"/>
<path d="M433.52 434.61 L434.64 434.92 L435.81 435.1 L437 435.13 L438.17 435.03 L439.29 434.79 L440.32 434.43 L441.23 433.94 L441.99 433.35 L442.59 432.68 L443 431.95 L443.2 431.17 L443.2 430.37 L443 429.58 L442.59 428.81 L442 428.11 L441.23 427.47 L440.32 426.93 L439.29 426.5 L438.18 426.19 L437.01 426.02 L435.82 425.98 L434.65 426.08 L433.53 426.32 L432.5 426.69 L431.59 427.17 L430.82 427.76 L430.22 428.43 L429.82 429.17 L429.61 429.95 L429.61 430.74 L429.81 431.54 L430.22 432.3 L430.81 433.01 L431.58 433.64 L432.49 434.18 Z" stroke-width="1.5" fill="#fff" />
<path d="M434.05 431.28 L435.02 431.55 L436.04 431.7 L437.07 431.73 L438.09 431.64 L439.06 431.44 L439.96 431.12 L440.75 430.7 L441.41 430.19 L441.93 429.6 L442.29 428.96 L442.47 428.28 L442.47 427.59 L442.29 426.9 L441.94 426.24 L441.42 425.62 L440.76 425.07 L439.96 424.6 L439.07 424.23 L438.1 423.96 L437.08 423.81 L436.04 423.77 L435.03 423.86 L434.05 424.07 L433.16 424.39 L432.37 424.81 L431.7 425.32 L431.18 425.9 L430.83 426.55 L430.65 427.22 L430.65 427.92 L430.83 428.6 L431.18 429.27 L431.69 429.88 L432.36 430.44 L433.15 430.91 Z" stroke-width="1.3" fill="#fff" />
<path d="M435.24 429.61 L435.75 429.75 L436.28 429.83 L436.83 429.84 L437.36 429.8 L437.87 429.69 L438.34 429.52 L438.76 429.3 L439.11 429.03 L439.38 428.72 L439.57 428.39 L439.66 428.03 L439.66 427.67 L439.57 427.31 L439.38 426.96 L439.11 426.63 L438.76 426.34 L438.35 426.1 L437.88 425.9 L437.37 425.76 L436.83 425.68 L436.29 425.66 L435.75 425.71 L435.24 425.82 L434.77 425.99 L434.36 426.21 L434.01 426.48 L433.74 426.78 L433.55 427.12 L433.45 427.47 L433.45 427.84 L433.55 428.2 L433.73 428.55 L434 428.87 L434.35 429.16 L434.77 429.41 Z" stroke-width="0" fill="#000" stroke="none"/>
<path d="M327.3 423.8 L339.4 419.9 L352.9 427.6 L353.4 432.5" stroke-width="1.75" fill="#fff" />
<line x1="334" y1="424" x2="339.4" y2="419.9" stroke-width="1.75" />
<path d="M409.35 452.44 L405.84 517.54 L240.07 750.4 L243.58 685.3 Z" stroke-width="0" fill="#fff" stroke="none"/>
<path d="M409.35 452.44 L407.14 493.4" stroke-width="1.75" fill="none" />
<path d="M243.58 685.3 L240.07 750.4" stroke-width="1.75" fill="none" />
<path d="M95.76 634.45 L92.26 699.55 L240.07 750.4 L243.58 685.3 Z" stroke-width="1.75" fill="#fff" />
<path d="M261.53 401.59 L409.35 452.44 L243.58 685.3 L95.76 634.45 Z" stroke-width="0" fill="#fff" stroke="none"/>
<path d="M93.56 675.41 L135.21 689.74" stroke-width="1.75" fill="none" />
<path d="M199.99 712.02 L241.37 726.26 L407.14 493.4" stroke-width="1.75" fill="none" />
<path d="M96.3 634.64 L101.77 632.13 L123 639.43" stroke-width="1.5" fill="none" />
<path d="M220.83 673.08 L242.06 680.38 L243.58 685.3" stroke-width="1.5" fill="none" />
<path d="M262.33 401.87 L253.92 413.69" stroke-width="3" fill="none" />
<path d="M248.14 421.8 L218.26 463.79" stroke-width="3" fill="none" />
<path d="M212.48 471.9 L182.47 514.06" stroke-width="3" fill="none" />
<path d="M176.69 522.18 L146.8 564.17" stroke-width="3" fill="none" />
<path d="M141.02 572.28 L111.39 613.91" stroke-width="3" fill="none" />
<path d="M105.61 622.03 L96.57 634.73" stroke-width="3" fill="none" />
<path d="M409.88 452.62 L401.72 464.09" stroke-width="1.9" fill="none" />
<path d="M394.31 474.5 L366.06 514.19" stroke-width="1.9" fill="none" />
<path d="M358.65 524.6 L330.27 564.47" stroke-width="1.9" fill="none" />
<path d="M322.86 574.88 L294.6 614.57" stroke-width="1.9" fill="none" />
<path d="M287.19 624.98 L259.19 664.32" stroke-width="1.9" fill="none" />
<path d="M251.78 674.72 L244.12 685.48" stroke-width="1.9" fill="none" />
<path d="M403.29 453.43 L397.76 461.19" stroke-width="1.9" fill="none" />
<path d="M389.47 472.83 L362.1 511.29" stroke-width="1.9" fill="none" />
<path d="M353.81 522.93 L326.31 561.57" stroke-width="1.9" fill="none" />
<path d="M318.02 573.21 L290.64 611.67" stroke-width="1.9" fill="none" />
<path d="M282.35 623.31 L255.23 661.42" stroke-width="1.9" fill="none" />
<path d="M246.94 673.06 L239.28 683.82" stroke-width="1.9" fill="none" />
<path d="M262.33 401.87 L285.72 409.91" stroke-width="1.75" fill="none" />
<path d="M302.38 415.64 L367.15 437.92" stroke-width="1.75" fill="none" />
<path d="M383.01 443.38 L409.35 452.44" stroke-width="1.75" fill="none" />
<path d="M405.58 451.14 L403.83 453.61" stroke-width="1.2" fill="none" />
<path d="M95.76 634.45 L120.76 643.05" stroke-width="1.75" fill="none" />
<path d="M136.88 648.6 L201.38 670.78" stroke-width="1.75" fill="none" />
<path d="M217.51 676.33 L243.58 685.3" stroke-width="1.75" fill="none" />
<path d="M248.84 420.61 L249.11 421.66 L249.64 422.68 L250.42 423.62 L251.42 424.47 L252.61 425.19 L253.96 425.78 L255.43 426.21 L256.98 426.46 L258.56 426.54 L260.12 426.43 L261.61 426.14 L263 425.69 L264.25 425.08 L265.31 424.33 L266.16 423.46 L266.76 422.51 L267.11 421.49 L267.19 420.43 L267 419.38 L266.55 418.35 L265.85 417.38 L264.91 416.5 L263.77 415.74 L262.47 415.11 L261.03 414.63 L259.5 414.32 L257.93 414.19 L256.36 414.24 L254.84 414.47 L253.41 414.88" stroke-width="1.6" fill="#fff" />
<path d="M255.53 425.22 L256.46 425.48 L257.42 425.62 L258.41 425.65 L259.37 425.57 L260.3 425.37 L261.15 425.07 L261.9 424.67 L262.53 424.18 L263.03 423.63 L263.36 423.02 L263.53 422.38 L263.54 421.72 L263.37 421.06 L263.03 420.43 L262.54 419.85 L261.91 419.32 L261.16 418.88 L260.31 418.52 L259.38 418.27 L258.42 418.12 L257.43 418.09 L256.47 418.17 L255.54 418.37 L254.69 418.67 L253.94 419.07 L253.31 419.56 L252.81 420.11 L252.48 420.72 L252.31 421.37 L252.3 422.03 L252.47 422.68 L252.81 423.31 L253.3 423.9 L253.93 424.42 L254.68 424.87 Z" stroke-width="0" fill="#000" stroke="none"/>
<path d="M257.61 422.31 L257.87 422.39 L258.15 422.43 L258.44 422.44 L258.72 422.41 L258.99 422.35 L259.23 422.27 L259.45 422.15 L259.63 422.01 L259.78 421.85 L259.87 421.67 L259.92 421.49 L259.92 421.3 L259.87 421.11 L259.78 420.93 L259.63 420.76 L259.45 420.6 L259.23 420.47 L258.99 420.37 L258.72 420.3 L258.44 420.26 L258.16 420.25 L257.88 420.27 L257.61 420.33 L257.36 420.42 L257.14 420.53 L256.96 420.67 L256.82 420.83 L256.72 421.01 L256.67 421.2 L256.67 421.39 L256.72 421.58 L256.82 421.76 L256.96 421.93 L257.14 422.08 L257.36 422.21 Z" stroke-width="0" fill="#aaa" stroke="none"/>
<path d="M384.78 471.44 L386.43 471.89 L388.16 472.15 L389.92 472.21 L391.65 472.06 L393.3 471.7 L394.83 471.16 L396.18 470.45 L397.31 469.58 L398.19 468.58 L398.79 467.49 L399.1 466.34 L399.1 465.16 L398.79 463.99 L398.19 462.87 L397.32 461.82 L396.19 460.88 L394.84 460.08 L393.32 459.44 L391.67 458.99 L389.94 458.73 L388.18 458.67 L386.45 458.83 L384.79 459.18 L383.27 459.72 L381.92 460.44 L380.79 461.3 L379.91 462.3 L379.31 463.39 L379 464.54 L379 465.72 L379.3 466.89 L379.9 468.01 L380.78 469.06 L381.91 470 L383.26 470.8 Z" stroke-width="1.6" fill="#fff" />
<path d="M386.58 470.3 L387.5 470.56 L388.47 470.7 L389.45 470.73 L390.42 470.65 L391.35 470.45 L392.2 470.15 L392.95 469.75 L393.58 469.26 L394.07 468.71 L394.41 468.1 L394.58 467.45 L394.58 466.79 L394.41 466.14 L394.08 465.51 L393.59 464.93 L392.96 464.4 L392.2 463.95 L391.35 463.6 L390.43 463.34 L389.46 463.2 L388.48 463.17 L387.51 463.25 L386.59 463.45 L385.74 463.75 L384.99 464.15 L384.35 464.64 L383.86 465.19 L383.52 465.8 L383.35 466.45 L383.35 467.1 L383.52 467.76 L383.86 468.39 L384.35 468.97 L384.98 469.5 L385.73 469.95 Z" stroke-width="0" fill="#000" stroke="none"/>
<path d="M388.65 467.39 L388.92 467.46 L389.2 467.51 L389.49 467.51 L389.77 467.49 L390.03 467.43 L390.28 467.35 L390.5 467.23 L390.68 467.09 L390.82 466.93 L390.92 466.75 L390.97 466.57 L390.97 466.38 L390.92 466.19 L390.82 466 L390.68 465.83 L390.5 465.68 L390.28 465.55 L390.04 465.45 L389.77 465.38 L389.49 465.33 L389.2 465.33 L388.92 465.35 L388.66 465.41 L388.41 465.49 L388.19 465.61 L388.01 465.75 L387.87 465.91 L387.77 466.09 L387.72 466.27 L387.72 466.47 L387.77 466.65 L387.87 466.84 L388.01 467.01 L388.19 467.16 L388.41 467.29 Z" stroke-width="0" fill="#aaa" stroke="none"/>
<path d="M395.75 472.54 L398.55 471.54 L391.75 483.04 L390.75 478.04 Z" stroke-width="0" fill="#000" stroke="none"/>
<path d="M213.18 470.71 L213.45 471.76 L213.98 472.78 L214.75 473.72 L215.75 474.57 L216.95 475.3 L218.3 475.88 L219.77 476.31 L221.32 476.56 L222.89 476.64 L224.45 476.53 L225.95 476.25 L227.34 475.79 L228.58 475.18 L229.64 474.43 L230.49 473.56 L231.1 472.61 L231.45 471.59 L231.53 470.53 L231.34 469.48 L230.89 468.45 L230.18 467.48 L229.25 466.6 L228.11 465.84 L226.8 465.21 L225.36 464.73 L223.84 464.42 L222.26 464.29 L220.69 464.34 L219.17 464.57 L217.74 464.98" stroke-width="1.6" fill="#fff" />
<path d="M219.87 475.32 L220.79 475.58 L221.76 475.72 L222.74 475.75 L223.71 475.67 L224.63 475.47 L225.48 475.17 L226.24 474.77 L226.87 474.28 L227.36 473.73 L227.7 473.12 L227.87 472.48 L227.87 471.82 L227.7 471.16 L227.37 470.53 L226.88 469.95 L226.24 469.42 L225.49 468.98 L224.64 468.62 L223.72 468.37 L222.75 468.22 L221.77 468.19 L220.8 468.27 L219.88 468.47 L219.03 468.77 L218.27 469.17 L217.64 469.66 L217.15 470.21 L216.81 470.82 L216.64 471.47 L216.64 472.13 L216.81 472.78 L217.15 473.41 L217.64 474 L218.27 474.52 L219.02 474.97 Z" stroke-width="0" fill="#000" stroke="none"/>
<path d="M221.94 472.41 L222.21 472.49 L222.49 472.53 L222.77 472.54 L223.05 472.51 L223.32 472.46 L223.57 472.37 L223.79 472.25 L223.97 472.11 L224.11 471.95 L224.21 471.77 L224.26 471.59 L224.26 471.4 L224.21 471.21 L224.11 471.03 L223.97 470.86 L223.79 470.7 L223.57 470.57 L223.32 470.47 L223.06 470.4 L222.78 470.36 L222.49 470.35 L222.21 470.37 L221.94 470.43 L221.7 470.52 L221.48 470.63 L221.3 470.77 L221.15 470.93 L221.06 471.11 L221.01 471.3 L221.01 471.49 L221.06 471.68 L221.15 471.86 L221.3 472.03 L221.48 472.18 L221.7 472.31 Z" stroke-width="0" fill="#aaa" stroke="none"/>
<path d="M349.11 521.54 L350.77 521.99 L352.5 522.25 L354.26 522.31 L355.99 522.16 L357.64 521.8 L359.16 521.26 L360.51 520.55 L361.64 519.68 L362.52 518.68 L363.12 517.6 L363.43 516.44 L363.43 515.26 L363.13 514.09 L362.53 512.97 L361.65 511.92 L360.52 510.98 L359.18 510.18 L357.65 509.54 L356 509.09 L354.27 508.83 L352.51 508.78 L350.78 508.93 L349.13 509.28 L347.61 509.82 L346.26 510.54 L345.13 511.4 L344.25 512.4 L343.64 513.49 L343.34 514.64 L343.34 515.82 L343.64 516.99 L344.24 518.12 L345.12 519.16 L346.25 520.1 L347.59 520.9 Z" stroke-width="1.6" fill="#fff" />
<path d="M350.92 520.4 L351.84 520.66 L352.81 520.8 L353.79 520.83 L354.76 520.75 L355.68 520.55 L356.53 520.25 L357.29 519.85 L357.92 519.36 L358.41 518.81 L358.75 518.2 L358.92 517.55 L358.92 516.9 L358.75 516.24 L358.41 515.61 L357.92 515.03 L357.29 514.5 L356.54 514.05 L355.69 513.7 L354.77 513.44 L353.8 513.3 L352.82 513.27 L351.85 513.35 L350.92 513.55 L350.07 513.85 L349.32 514.25 L348.69 514.74 L348.2 515.29 L347.86 515.9 L347.69 516.55 L347.69 517.2 L347.86 517.86 L348.19 518.49 L348.68 519.07 L349.31 519.6 L350.07 520.05 Z" stroke-width="0" fill="#000" stroke="none"/>
<path d="M352.99 517.49 L353.26 517.56 L353.54 517.61 L353.82 517.62 L354.1 517.59 L354.37 517.53 L354.61 517.45 L354.83 517.33 L355.02 517.19 L355.16 517.03 L355.26 516.85 L355.3 516.67 L355.31 516.48 L355.26 516.29 L355.16 516.1 L355.02 515.93 L354.83 515.78 L354.62 515.65 L354.37 515.55 L354.1 515.48 L353.82 515.44 L353.54 515.43 L353.26 515.45 L352.99 515.51 L352.74 515.6 L352.53 515.71 L352.34 515.85 L352.2 516.01 L352.1 516.19 L352.05 516.37 L352.05 516.57 L352.1 516.75 L352.2 516.94 L352.34 517.11 L352.53 517.26 L352.74 517.39 Z" stroke-width="0" fill="#aaa" stroke="none"/>
<path d="M360.08 522.64 L362.88 521.64 L356.08 533.14 L355.08 528.14 Z" stroke-width="0" fill="#000" stroke="none"/>
<path d="M177.38 520.99 L177.65 522.04 L178.19 523.05 L178.96 524 L179.96 524.84 L181.16 525.57 L182.51 526.16 L183.98 526.58 L185.52 526.84 L187.1 526.91 L188.66 526.81 L190.16 526.52 L191.55 526.07 L192.79 525.46 L193.85 524.71 L194.7 523.84 L195.31 522.88 L195.66 521.86 L195.74 520.81 L195.55 519.75 L195.1 518.73 L194.39 517.76 L193.46 516.88 L192.32 516.11 L191.01 515.48 L189.57 515.01 L188.05 514.7 L186.47 514.57 L184.9 514.62 L183.38 514.85 L181.95 515.25" stroke-width="1.6" fill="#fff" />
<path d="M184.08 525.6 L185 525.85 L185.97 526 L186.95 526.03 L187.92 525.94 L188.84 525.75 L189.69 525.45 L190.45 525.05 L191.08 524.56 L191.57 524 L191.91 523.4 L192.08 522.75 L192.08 522.09 L191.91 521.44 L191.58 520.81 L191.08 520.22 L190.45 519.7 L189.7 519.25 L188.85 518.9 L187.93 518.64 L186.96 518.5 L185.98 518.47 L185.01 518.55 L184.09 518.75 L183.24 519.05 L182.48 519.45 L181.85 519.94 L181.36 520.49 L181.02 521.1 L180.85 521.74 L180.85 522.4 L181.02 523.06 L181.36 523.69 L181.85 524.27 L182.48 524.8 L183.23 525.24 Z" stroke-width="0" fill="#000" stroke="none"/>
<path d="M186.15 522.69 L186.42 522.76 L186.7 522.8 L186.98 522.81 L187.26 522.79 L187.53 522.73 L187.78 522.64 L187.99 522.53 L188.18 522.39 L188.32 522.23 L188.42 522.05 L188.47 521.87 L188.47 521.67 L188.42 521.48 L188.32 521.3 L188.18 521.13 L188 520.98 L187.78 520.85 L187.53 520.75 L187.27 520.68 L186.99 520.63 L186.7 520.62 L186.42 520.65 L186.15 520.71 L185.91 520.79 L185.69 520.91 L185.51 521.05 L185.36 521.21 L185.27 521.39 L185.22 521.57 L185.22 521.76 L185.27 521.95 L185.36 522.14 L185.5 522.31 L185.69 522.46 L185.91 522.59 Z" stroke-width="0" fill="#aaa" stroke="none"/>
<path d="M313.32 571.82 L314.98 572.27 L316.71 572.53 L318.47 572.58 L320.2 572.43 L321.85 572.08 L323.37 571.54 L324.72 570.82 L325.85 569.95 L326.73 568.96 L327.33 567.87 L327.64 566.72 L327.64 565.54 L327.34 564.37 L326.74 563.24 L325.86 562.2 L324.73 561.26 L323.39 560.46 L321.86 559.82 L320.21 559.37 L318.48 559.11 L316.72 559.05 L314.99 559.2 L313.34 559.55 L311.82 560.1 L310.47 560.81 L309.34 561.68 L308.46 562.67 L307.85 563.76 L307.55 564.92 L307.55 566.09 L307.85 567.27 L308.45 568.39 L309.33 569.44 L310.46 570.38 L311.8 571.18 Z" stroke-width="1.6" fill="#fff" />
<path d="M315.13 570.68 L316.05 570.93 L317.02 571.08 L318 571.11 L318.97 571.02 L319.89 570.83 L320.74 570.52 L321.5 570.12 L322.13 569.64 L322.62 569.08 L322.96 568.47 L323.13 567.83 L323.13 567.17 L322.96 566.52 L322.62 565.89 L322.13 565.3 L321.5 564.78 L320.75 564.33 L319.9 563.98 L318.98 563.72 L318.01 563.58 L317.03 563.55 L316.06 563.63 L315.13 563.83 L314.28 564.13 L313.53 564.53 L312.9 565.01 L312.41 565.57 L312.07 566.18 L311.9 566.82 L311.9 567.48 L312.07 568.14 L312.4 568.77 L312.89 569.35 L313.52 569.88 L314.28 570.32 Z" stroke-width="0" fill="#000" stroke="none"/>
<path d="M317.2 567.77 L317.47 567.84 L317.75 567.88 L318.03 567.89 L318.31 567.87 L318.58 567.81 L318.82 567.72 L319.04 567.61 L319.23 567.47 L319.37 567.31 L319.47 567.13 L319.51 566.94 L319.51 566.75 L319.47 566.56 L319.37 566.38 L319.23 566.21 L319.04 566.06 L318.83 565.93 L318.58 565.83 L318.31 565.75 L318.03 565.71 L317.75 565.7 L317.47 565.73 L317.2 565.78 L316.95 565.87 L316.74 565.99 L316.55 566.13 L316.41 566.29 L316.31 566.47 L316.26 566.65 L316.26 566.84 L316.31 567.03 L316.41 567.21 L316.55 567.38 L316.73 567.54 L316.95 567.66 Z" stroke-width="0" fill="#aaa" stroke="none"/>
<path d="M324.29 572.92 L327.09 571.92 L320.29 583.42 L319.29 578.42 Z" stroke-width="0" fill="#000" stroke="none"/>
<path d="M141.72 571.09 L141.99 572.14 L142.52 573.15 L143.3 574.1 L144.3 574.95 L145.49 575.67 L146.84 576.26 L148.31 576.68 L149.86 576.94 L151.44 577.01 L153 576.91 L154.49 576.62 L155.88 576.17 L157.13 575.56 L158.19 574.81 L159.04 573.94 L159.64 572.98 L159.99 571.96 L160.07 570.91 L159.88 569.86 L159.43 568.83 L158.73 567.86 L157.79 566.98 L156.65 566.21 L155.35 565.58 L153.91 565.11 L152.38 564.8 L150.81 564.67 L149.24 564.72 L147.72 564.95 L146.29 565.36" stroke-width="1.6" fill="#fff" />
<path d="M148.41 575.7 L149.34 575.95 L150.3 576.1 L151.29 576.13 L152.26 576.05 L153.18 575.85 L154.03 575.55 L154.78 575.15 L155.42 574.66 L155.91 574.11 L156.24 573.5 L156.42 572.85 L156.42 572.19 L156.25 571.54 L155.91 570.91 L155.42 570.32 L154.79 569.8 L154.04 569.35 L153.19 569 L152.26 568.74 L151.3 568.6 L150.31 568.57 L149.35 568.65 L148.42 568.85 L147.57 569.15 L146.82 569.55 L146.19 570.04 L145.69 570.59 L145.36 571.2 L145.19 571.84 L145.19 572.5 L145.36 573.16 L145.69 573.79 L146.18 574.37 L146.81 574.9 L147.56 575.34 Z" stroke-width="0" fill="#000" stroke="none"/>
<path d="M150.49 572.79 L150.75 572.86 L151.03 572.91 L151.32 572.91 L151.6 572.89 L151.87 572.83 L152.11 572.74 L152.33 572.63 L152.51 572.49 L152.66 572.33 L152.75 572.15 L152.8 571.97 L152.8 571.77 L152.75 571.59 L152.66 571.4 L152.51 571.23 L152.33 571.08 L152.11 570.95 L151.87 570.85 L151.6 570.78 L151.32 570.73 L151.04 570.72 L150.76 570.75 L150.49 570.81 L150.24 570.89 L150.02 571.01 L149.84 571.15 L149.7 571.31 L149.6 571.49 L149.55 571.67 L149.55 571.86 L149.6 572.05 L149.7 572.24 L149.84 572.41 L150.02 572.56 L150.24 572.69 Z" stroke-width="0" fill="#aaa" stroke="none"/>
<path d="M277.66 621.92 L279.31 622.37 L281.04 622.63 L282.8 622.68 L284.53 622.53 L286.18 622.18 L287.71 621.64 L289.06 620.92 L290.19 620.06 L291.07 619.06 L291.67 617.97 L291.98 616.82 L291.98 615.64 L291.67 614.47 L291.07 613.34 L290.2 612.3 L289.07 611.36 L287.72 610.56 L286.2 609.92 L284.55 609.47 L282.82 609.21 L281.06 609.15 L279.33 609.3 L277.67 609.66 L276.15 610.2 L274.8 610.91 L273.67 611.78 L272.79 612.78 L272.19 613.86 L271.88 615.02 L271.88 616.2 L272.18 617.37 L272.78 618.49 L273.66 619.54 L274.79 620.48 L276.14 621.28 Z" stroke-width="1.6" fill="#fff" />
<path d="M279.46 620.78 L280.38 621.03 L281.35 621.18 L282.33 621.21 L283.3 621.12 L284.23 620.93 L285.08 620.62 L285.83 620.22 L286.46 619.74 L286.95 619.18 L287.29 618.58 L287.46 617.93 L287.46 617.27 L287.29 616.62 L286.96 615.99 L286.47 615.4 L285.84 614.88 L285.08 614.43 L284.23 614.08 L283.31 613.82 L282.34 613.68 L281.36 613.65 L280.39 613.73 L279.47 613.93 L278.62 614.23 L277.87 614.63 L277.23 615.12 L276.74 615.67 L276.4 616.28 L276.23 616.92 L276.23 617.58 L276.4 618.24 L276.74 618.87 L277.23 619.45 L277.86 619.98 L278.61 620.42 Z" stroke-width="0" fill="#000" stroke="none"/>
<path d="M281.53 617.87 L281.8 617.94 L282.08 617.98 L282.37 617.99 L282.65 617.97 L282.91 617.91 L283.16 617.82 L283.38 617.71 L283.56 617.57 L283.7 617.41 L283.8 617.23 L283.85 617.04 L283.85 616.85 L283.8 616.66 L283.7 616.48 L283.56 616.31 L283.38 616.16 L283.16 616.03 L282.92 615.93 L282.65 615.85 L282.37 615.81 L282.08 615.8 L281.8 615.83 L281.54 615.88 L281.29 615.97 L281.07 616.09 L280.89 616.23 L280.75 616.39 L280.65 616.57 L280.6 616.75 L280.6 616.94 L280.65 617.13 L280.75 617.31 L280.89 617.48 L281.07 617.64 L281.29 617.77 Z" stroke-width="0" fill="#aaa" stroke="none"/>
<path d="M288.63 623.02 L291.43 622.02 L284.63 633.52 L283.63 628.52 Z" stroke-width="0" fill="#000" stroke="none"/>
<path d="M106.31 620.84 L106.58 621.89 L107.11 622.9 L107.89 623.84 L108.89 624.69 L110.08 625.42 L111.43 626.01 L112.9 626.43 L114.45 626.69 L116.02 626.76 L117.58 626.65 L119.08 626.37 L120.47 625.92 L121.72 625.3 L122.78 624.56 L123.62 623.69 L124.23 622.73 L124.58 621.71 L124.66 620.66 L124.47 619.6 L124.02 618.58 L123.31 617.61 L122.38 616.73 L121.24 615.96 L119.93 615.33 L118.49 614.86 L116.97 614.55 L115.4 614.42 L113.83 614.47 L112.3 614.7 L110.88 615.1" stroke-width="1.6" fill="#fff" />
<path d="M113 625.45 L113.92 625.7 L114.89 625.85 L115.87 625.88 L116.84 625.79 L117.77 625.6 L118.62 625.29 L119.37 624.89 L120 624.41 L120.49 623.85 L120.83 623.24 L121 622.6 L121 621.94 L120.83 621.29 L120.5 620.66 L120.01 620.07 L119.38 619.55 L118.62 619.1 L117.77 618.74 L116.85 618.49 L115.88 618.35 L114.9 618.32 L113.93 618.4 L113.01 618.6 L112.16 618.9 L111.4 619.3 L110.77 619.78 L110.28 620.34 L109.94 620.95 L109.77 621.59 L109.77 622.25 L109.94 622.91 L110.28 623.53 L110.77 624.12 L111.4 624.65 L112.15 625.09 Z" stroke-width="0" fill="#000" stroke="none"/>
<path d="M115.07 622.54 L115.34 622.61 L115.62 622.65 L115.9 622.66 L116.18 622.64 L116.45 622.58 L116.7 622.49 L116.92 622.38 L117.1 622.24 L117.24 622.08 L117.34 621.9 L117.39 621.71 L117.39 621.52 L117.34 621.33 L117.24 621.15 L117.1 620.98 L116.92 620.83 L116.7 620.7 L116.45 620.6 L116.19 620.52 L115.91 620.48 L115.62 620.47 L115.34 620.5 L115.08 620.55 L114.83 620.64 L114.61 620.76 L114.43 620.9 L114.29 621.06 L114.19 621.23 L114.14 621.42 L114.14 621.61 L114.19 621.8 L114.28 621.98 L114.43 622.15 L114.61 622.3 L114.83 622.43 Z" stroke-width="0" fill="#aaa" stroke="none"/>
<path d="M242.25 671.66 L243.9 672.12 L245.63 672.38 L247.39 672.43 L249.12 672.28 L250.77 671.93 L252.29 671.39 L253.64 670.67 L254.77 669.8 L255.65 668.81 L256.26 667.72 L256.56 666.57 L256.56 665.39 L256.26 664.22 L255.66 663.09 L254.78 662.04 L253.65 661.1 L252.31 660.3 L250.79 659.67 L249.13 659.21 L247.4 658.95 L245.64 658.9 L243.91 659.05 L242.26 659.4 L240.74 659.94 L239.39 660.66 L238.26 661.53 L237.38 662.52 L236.78 663.61 L236.47 664.76 L236.47 665.94 L236.77 667.11 L237.37 668.24 L238.25 669.29 L239.38 670.23 L240.72 671.03 Z" stroke-width="1.6" fill="#fff" />
<path d="M244.05 670.53 L244.97 670.78 L245.94 670.93 L246.92 670.96 L247.89 670.87 L248.81 670.68 L249.66 670.37 L250.42 669.97 L251.05 669.49 L251.54 668.93 L251.88 668.32 L252.05 667.68 L252.05 667.02 L251.88 666.37 L251.54 665.74 L251.05 665.15 L250.42 664.63 L249.67 664.18 L248.82 663.82 L247.9 663.57 L246.93 663.42 L245.95 663.39 L244.98 663.48 L244.06 663.67 L243.21 663.98 L242.45 664.38 L241.82 664.86 L241.33 665.42 L240.99 666.03 L240.82 666.67 L240.82 667.33 L240.99 667.98 L241.32 668.61 L241.81 669.2 L242.45 669.72 L243.2 670.17 Z" stroke-width="0" fill="#000" stroke="none"/>
<path d="M246.12 667.62 L246.39 667.69 L246.67 667.73 L246.95 667.74 L247.23 667.72 L247.5 667.66 L247.75 667.57 L247.96 667.46 L248.15 667.31 L248.29 667.15 L248.39 666.98 L248.44 666.79 L248.44 666.6 L248.39 666.41 L248.29 666.23 L248.15 666.06 L247.97 665.91 L247.75 665.78 L247.5 665.68 L247.23 665.6 L246.95 665.56 L246.67 665.55 L246.39 665.58 L246.12 665.63 L245.88 665.72 L245.66 665.84 L245.48 665.98 L245.33 666.14 L245.24 666.31 L245.19 666.5 L245.19 666.69 L245.23 666.88 L245.33 667.06 L245.47 667.23 L245.66 667.38 L245.87 667.51 Z" stroke-width="0" fill="#aaa" stroke="none"/>
<path d="M253.22 672.77 L256.02 671.77 L249.22 683.27 L248.22 678.27 Z" stroke-width="0" fill="#000" stroke="none"/>
<path d="M287.21 412.64 L285.99 413.05 L284.9 413.59 L283.94 414.24 L283.15 414.98 L282.54 415.8 L282.13 416.68 L281.92 417.6 L281.92 418.53 L282.12 419.46 L282.54 420.36 L283.15 421.21 L283.94 422.01 L284.89 422.71 L285.98 423.32 L287.19 423.82 L288.49 424.18 L289.85 424.42 L291.24 424.52 L292.62 424.47 L293.97 424.29 L295.26 423.97 L296.44 423.52 L297.51 422.96 L298.43 422.29 L299.18 421.53 L299.74 420.69 L300.11 419.8 L300.27 418.88 L300.23 417.95 L299.97 417.03" stroke-width="1.6" fill="#fff" />
<path d="M288.62 423.21 L289.54 423.46 L290.51 423.61 L291.49 423.64 L292.46 423.55 L293.38 423.36 L294.23 423.05 L294.99 422.65 L295.62 422.17 L296.11 421.61 L296.45 421 L296.62 420.36 L296.62 419.7 L296.45 419.05 L296.12 418.42 L295.62 417.83 L294.99 417.31 L294.24 416.86 L293.39 416.5 L292.47 416.25 L291.5 416.11 L290.52 416.07 L289.55 416.16 L288.63 416.36 L287.78 416.66 L287.02 417.06 L286.39 417.54 L285.9 418.1 L285.56 418.71 L285.39 419.35 L285.39 420.01 L285.56 420.66 L285.9 421.29 L286.39 421.88 L287.02 422.4 L287.77 422.85 Z" stroke-width="0" fill="#000" stroke="none"/>
<path d="M290.69 420.3 L290.96 420.37 L291.24 420.41 L291.52 420.42 L291.8 420.4 L292.07 420.34 L292.32 420.25 L292.53 420.14 L292.72 420 L292.86 419.83 L292.96 419.66 L293.01 419.47 L293.01 419.28 L292.96 419.09 L292.86 418.91 L292.72 418.74 L292.54 418.59 L292.32 418.46 L292.07 418.36 L291.81 418.28 L291.53 418.24 L291.24 418.23 L290.96 418.26 L290.69 418.31 L290.45 418.4 L290.23 418.52 L290.05 418.66 L289.9 418.82 L289.81 418.99 L289.76 419.18 L289.76 419.37 L289.81 419.56 L289.9 419.74 L290.04 419.91 L290.23 420.06 L290.45 420.19 Z" stroke-width="0" fill="#aaa" stroke="none"/>
<path d="M367.57 440.28 L366.35 440.7 L365.26 441.24 L364.3 441.89 L363.51 442.63 L362.9 443.45 L362.49 444.32 L362.28 445.24 L362.28 446.17 L362.48 447.1 L362.9 448 L363.51 448.86 L364.29 449.65 L365.25 450.36 L366.34 450.96 L367.55 451.46 L368.85 451.83 L370.21 452.06 L371.6 452.16 L372.98 452.12 L374.33 451.93 L375.61 451.61 L376.8 451.17 L377.87 450.6 L378.79 449.93 L379.54 449.17 L380.1 448.33 L380.47 447.45 L380.63 446.53 L380.59 445.59 L380.33 444.67" stroke-width="1.6" fill="#fff" />
<path d="M368.98 450.85 L369.9 451.1 L370.87 451.25 L371.85 451.28 L372.82 451.19 L373.74 451 L374.59 450.7 L375.35 450.3 L375.98 449.81 L376.47 449.25 L376.81 448.65 L376.98 448 L376.98 447.34 L376.81 446.69 L376.47 446.06 L375.98 445.47 L375.35 444.95 L374.6 444.5 L373.75 444.15 L372.83 443.89 L371.86 443.75 L370.88 443.72 L369.91 443.8 L368.99 444 L368.14 444.3 L367.38 444.7 L366.75 445.19 L366.26 445.74 L365.92 446.35 L365.75 446.99 L365.75 447.65 L365.92 448.31 L366.25 448.94 L366.75 449.52 L367.38 450.05 L368.13 450.49 Z" stroke-width="0" fill="#000" stroke="none"/>
<path d="M371.05 447.94 L371.32 448.01 L371.6 448.05 L371.88 448.06 L372.16 448.04 L372.43 447.98 L372.68 447.89 L372.89 447.78 L373.08 447.64 L373.22 447.48 L373.32 447.3 L373.37 447.12 L373.37 446.92 L373.32 446.73 L373.22 446.55 L373.08 446.38 L372.9 446.23 L372.68 446.1 L372.43 446 L372.16 445.93 L371.88 445.88 L371.6 445.87 L371.32 445.9 L371.05 445.96 L370.81 446.04 L370.59 446.16 L370.41 446.3 L370.26 446.46 L370.17 446.64 L370.12 446.82 L370.12 447.01 L370.17 447.2 L370.26 447.39 L370.4 447.56 L370.59 447.71 L370.8 447.84 Z" stroke-width="0" fill="#aaa" stroke="none"/>
<path d="M218.69 676.38 L239.71 646.85 L240.58 645.04 L240.71 643.12 L240.09 641.21 L238.76 639.46 L236.82 637.98 L234.4 636.87 L155.75 609.82 L153.01 609.15 L150.14 608.98 L147.33 609.31 L144.78 610.12 L142.66 611.36 L141.12 612.93 L120.09 642.47" stroke-width="1.75" fill="none" />
<path d="M220.49 655.13 L221.95 655.53 L223.48 655.76 L225.03 655.81 L226.56 655.67 L228.02 655.36 L229.36 654.89 L230.55 654.25 L231.55 653.49 L232.32 652.61 L232.86 651.65 L233.13 650.63 L233.13 649.59 L232.86 648.56 L232.33 647.57 L231.56 646.64 L230.56 645.81 L229.37 645.11 L228.03 644.54 L226.57 644.14 L225.04 643.92 L223.49 643.87 L221.97 644 L220.51 644.31 L219.16 644.79 L217.97 645.42 L216.98 646.19 L216.2 647.06 L215.67 648.02 L215.4 649.04 L215.4 650.08 L215.66 651.11 L216.19 652.11 L216.97 653.03 L217.96 653.86 L219.15 654.57 Z" stroke-width="1.6" fill="#fff" />
<path d="M222.01 654 L222.86 654.24 L223.75 654.37 L224.65 654.4 L225.54 654.32 L226.39 654.14 L227.18 653.86 L227.87 653.49 L228.45 653.04 L228.91 652.53 L229.22 651.97 L229.38 651.38 L229.38 650.77 L229.22 650.17 L228.91 649.59 L228.46 649.05 L227.88 648.57 L227.18 648.16 L226.4 647.83 L225.55 647.59 L224.66 647.46 L223.76 647.43 L222.86 647.51 L222.01 647.69 L221.23 647.97 L220.54 648.34 L219.95 648.79 L219.5 649.3 L219.19 649.86 L219.03 650.45 L219.03 651.06 L219.19 651.66 L219.5 652.24 L219.95 652.78 L220.53 653.26 L221.22 653.67 Z" stroke-width="0" fill="#000" stroke="none"/>
<path d="M223.95 651.27 L224.2 651.33 L224.45 651.37 L224.71 651.38 L224.96 651.36 L225.21 651.31 L225.43 651.23 L225.63 651.12 L225.79 650.99 L225.92 650.85 L226.01 650.69 L226.06 650.52 L226.06 650.35 L226.01 650.17 L225.93 650.01 L225.8 649.85 L225.63 649.72 L225.43 649.6 L225.21 649.5 L224.97 649.44 L224.71 649.4 L224.45 649.39 L224.2 649.41 L223.95 649.46 L223.73 649.54 L223.53 649.65 L223.37 649.78 L223.24 649.92 L223.15 650.08 L223.1 650.25 L223.1 650.43 L223.15 650.6 L223.24 650.76 L223.36 650.92 L223.53 651.06 L223.73 651.17 Z" stroke-width="0" fill="#aaa" stroke="none"/>
<path d="M143.85 628.76 L145.31 629.17 L146.83 629.39 L148.38 629.44 L149.91 629.31 L151.37 629 L152.71 628.52 L153.9 627.89 L154.9 627.12 L155.68 626.25 L156.21 625.28 L156.48 624.27 L156.48 623.23 L156.21 622.19 L155.68 621.2 L154.91 620.28 L153.91 619.45 L152.73 618.74 L151.38 618.18 L149.93 617.78 L148.4 617.55 L146.85 617.5 L145.32 617.63 L143.86 617.95 L142.52 618.42 L141.33 619.06 L140.33 619.82 L139.55 620.7 L139.02 621.66 L138.75 622.68 L138.75 623.72 L139.02 624.75 L139.55 625.74 L140.32 626.67 L141.32 627.5 L142.51 628.2 Z" stroke-width="1.6" fill="#fff" />
<path d="M145.36 627.64 L146.21 627.87 L147.1 628 L148.01 628.03 L148.9 627.95 L149.75 627.77 L150.53 627.49 L151.23 627.13 L151.81 626.68 L152.26 626.17 L152.57 625.61 L152.73 625.01 L152.73 624.41 L152.57 623.8 L152.26 623.22 L151.81 622.69 L151.23 622.2 L150.54 621.79 L149.76 621.46 L148.91 621.23 L148.01 621.1 L147.11 621.07 L146.22 621.14 L145.37 621.33 L144.58 621.61 L143.89 621.97 L143.31 622.42 L142.85 622.93 L142.54 623.49 L142.39 624.09 L142.39 624.69 L142.54 625.29 L142.85 625.87 L143.3 626.41 L143.88 626.9 L144.58 627.31 Z" stroke-width="0" fill="#000" stroke="none"/>
<path d="M147.31 624.9 L147.55 624.97 L147.8 625.01 L148.06 625.02 L148.32 624.99 L148.56 624.94 L148.78 624.86 L148.98 624.76 L149.15 624.63 L149.28 624.48 L149.37 624.32 L149.41 624.15 L149.41 623.98 L149.37 623.81 L149.28 623.64 L149.15 623.49 L148.98 623.35 L148.79 623.23 L148.56 623.14 L148.32 623.07 L148.07 623.03 L147.81 623.03 L147.55 623.05 L147.31 623.1 L147.08 623.18 L146.89 623.28 L146.72 623.41 L146.59 623.56 L146.5 623.72 L146.46 623.89 L146.46 624.06 L146.5 624.23 L146.59 624.4 L146.72 624.55 L146.88 624.69 L147.08 624.81 Z" stroke-width="0" fill="#aaa" stroke="none"/>
<path d="M196.08 655.12 L195.2 656.02 L193.98 656.73 L192.52 657.2 L190.91 657.38 L189.27 657.28 L187.7 656.9 L161.3 647.82 L159.92 647.19 L158.8 646.34 L158.04 645.34 L157.69 644.25 L157.76 643.15 L158.26 642.11 L216.79 559.89 L217.68 558.98 L218.89 558.27 L220.35 557.81 L221.96 557.62 L223.6 557.72 L225.17 558.1 L251.57 567.18 L252.96 567.82 L254.07 568.67 L254.83 569.67 L255.18 570.76 L255.11 571.86 L254.61 572.9 Z" stroke-width="1.75" fill="#fff" />
<path d="M251.79 571.63 L216.95 620.57 L190.22 630.05 L184.93 609.56 L219.77 560.62 Z" stroke-width="1.6" fill="none" />
<path d="M246.76 573.46 L215.53 617.34 L189.58 608.41 L220.82 564.53 Z" stroke-width="1.7" fill="none" />
<path d="M211.67 619.27 L193.1 626.15 L189.44 611.63 Z" stroke-width="1.7" fill="none" />
<path d="M203.51 643.74 L166.68 631.07" stroke-width="1.3" fill="none" />
<path d="M202.51 644.51 L176.01 649.84 L165.79 632.32" stroke-width="1.4" fill="none" />
<path d="M137.28 650.89 L135.18 689.85" stroke-width="1.75" fill="none" />
<path d="M202.05 673.17 L199.95 712.12" stroke-width="1.75" fill="none" />
<path d="M138.61 658.89 L134.84 664.19 L195.61 685.09 L193.85 717.8" stroke-width="1.75" fill="#fff" />
<path d="M199.38 679.8 L195.61 685.09" stroke-width="1.2" fill="none" />
<path d="M134.84 664.19 L133.08 696.89" stroke-width="1.2" fill="none" />
<path d="M186.28 686.29 L187.53 686.88 L188.64 687.74 L189.51 688.77 L190.04 689.89 L190.18 690.97 L188.86 715.46 L188.61 716.4 L187.98 717.11 L187.04 717.53 L185.88 717.6 L184.61 717.33 L138.71 701.54 L137.46 700.94 L136.34 700.09 L135.48 699.05 L134.95 697.94 L134.8 696.86 L136.12 672.37 L136.38 671.43 L137.01 670.71 L137.95 670.3 L139.11 670.23 L140.38 670.5 Z" stroke-width="1.75" fill="#fff" />
<path d="M148.18 678.14 L148.14 677.46 L147.96 676.76 L147.65 676.04 L147.21 675.34 L146.65 674.68 L146 674.07 L145.27 673.54 L144.49 673.09 L143.68 672.75 L142.86 672.53 L142.06 672.43 L141.3 672.45 L140.61 672.6 L140 672.86 L139.5 673.24 L139.12 673.72 L138.88 674.28 L138.77 674.91 L138.81 675.59 L138.99 676.3 L139.3 677.01 L139.74 677.71 L140.3 678.38 L140.95 678.98 L141.67 679.52 L142.46 679.96 L143.27 680.3 L144.09 680.52 L144.89 680.62 L145.65 680.6 L146.34 680.46 L146.95 680.19 L147.45 679.81 L147.82 679.34 L148.07 678.78 Z" stroke-width="1.4" fill="#fff" />
<path d="M142.36 679.44 L142.71 672.97" stroke-width="1" fill="none" />
<path d="M144.24 680.08 L144.59 673.62" stroke-width="1" fill="none" />
<path d="M188.45 692 L188.41 691.32 L188.24 690.61 L187.92 689.89 L187.48 689.19 L186.93 688.53 L186.28 687.92 L185.55 687.39 L184.76 686.95 L183.95 686.61 L183.13 686.38 L182.33 686.28 L181.57 686.3 L180.88 686.45 L180.28 686.72 L179.78 687.09 L179.4 687.57 L179.15 688.13 L179.04 688.76 L179.08 689.44 L179.26 690.15 L179.57 690.87 L180.01 691.57 L180.57 692.23 L181.22 692.84 L181.95 693.37 L182.73 693.81 L183.54 694.15 L184.36 694.38 L185.17 694.48 L185.92 694.46 L186.62 694.31 L187.22 694.04 L187.72 693.67 L188.1 693.19 L188.34 692.63 Z" stroke-width="1.4" fill="#fff" />
<path d="M182.63 693.29 L182.98 686.82" stroke-width="1" fill="none" />
<path d="M184.51 693.94 L184.86 687.47" stroke-width="1" fill="none" />
<path d="M147.02 699.59 L146.99 698.91 L146.81 698.2 L146.49 697.48 L146.05 696.78 L145.5 696.12 L144.85 695.51 L144.12 694.98 L143.34 694.53 L142.52 694.19 L141.7 693.97 L140.9 693.87 L140.14 693.89 L139.45 694.04 L138.85 694.3 L138.35 694.68 L137.97 695.16 L137.72 695.72 L137.62 696.35 L137.65 697.03 L137.83 697.74 L138.14 698.45 L138.59 699.15 L139.14 699.82 L139.79 700.43 L140.52 700.96 L141.3 701.4 L142.12 701.74 L142.94 701.96 L143.74 702.07 L144.5 702.04 L145.19 701.9 L145.79 701.63 L146.29 701.25 L146.67 700.78 L146.92 700.22 Z" stroke-width="1.4" fill="#fff" />
<path d="M141.2 700.88 L141.55 694.41" stroke-width="1" fill="none" />
<path d="M143.09 701.52 L143.43 695.06" stroke-width="1" fill="none" />
<path d="M187.3 713.44 L187.26 712.76 L187.08 712.05 L186.77 711.34 L186.33 710.64 L185.77 709.97 L185.12 709.36 L184.39 708.83 L183.61 708.39 L182.8 708.05 L181.98 707.82 L181.18 707.72 L180.42 707.74 L179.73 707.89 L179.12 708.16 L178.62 708.53 L178.24 709.01 L178 709.57 L177.89 710.2 L177.93 710.88 L178.1 711.59 L178.42 712.31 L178.86 713.01 L179.41 713.67 L180.07 714.28 L180.79 714.81 L181.58 715.26 L182.39 715.59 L183.21 715.82 L184.01 715.92 L184.77 715.9 L185.46 715.75 L186.07 715.49 L186.56 715.11 L186.94 714.63 L187.19 714.07 Z" stroke-width="1.4" fill="#fff" />
<path d="M181.48 714.73 L181.83 708.26" stroke-width="1" fill="none" />
<path d="M183.36 715.38 L183.71 708.91" stroke-width="1" fill="none" />
<path d="M167.16 697.18 L167.13 696.56 L166.96 695.92 L166.68 695.26 L166.27 694.62 L165.77 694.01 L165.17 693.46 L164.5 692.97 L163.79 692.57 L163.04 692.26 L162.29 692.05 L161.56 691.96 L160.87 691.98 L160.24 692.11 L159.68 692.35 L159.23 692.7 L158.88 693.14 L158.66 693.65 L158.56 694.23 L158.59 694.85 L158.75 695.49 L159.04 696.15 L159.45 696.79 L159.95 697.4 L160.55 697.95 L161.21 698.44 L161.93 698.85 L162.67 699.15 L163.42 699.36 L164.15 699.45 L164.85 699.43 L165.48 699.3 L166.03 699.06 L166.49 698.71 L166.84 698.27 L167.06 697.76 Z" stroke-width="0" fill="#000" stroke="none"/>
<path d="M127.85 668.3 L122.45 675.88 L134.69 680.09 L134.09 691.29 L121.84 687.07 L122.45 675.88" stroke-width="1.4" fill="#fff" />
<path d="M121.84 687.07 L127.24 679.49" stroke-width="1.4" fill="none" />
<path d="M125.69 677.3 L125.11 688.2" stroke-width="1.1" fill="none" />
<path d="M125.1615 640.20731 L125.8615 649.20731 C127.4615 653.20731, 134.4615 653.20731, 136.4615 651.70731 L138.9615 642.70731" stroke-width="1.6" fill="#fff" />
<path d="M128.82 645.82 L130.23 646.21 L131.71 646.43 L133.2 646.48 L134.68 646.35 L136.09 646.05 L137.39 645.59 L138.54 644.98 L139.5 644.24 L140.26 643.39 L140.77 642.46 L141.03 641.48 L141.03 640.47 L140.77 639.47 L140.26 638.51 L139.51 637.62 L138.55 636.82 L137.4 636.13 L136.1 635.59 L134.69 635.2 L133.22 634.98 L131.72 634.94 L130.24 635.06 L128.83 635.37 L127.53 635.83 L126.38 636.44 L125.42 637.18 L124.67 638.03 L124.15 638.96 L123.89 639.94 L123.89 640.94 L124.15 641.94 L124.66 642.9 L125.41 643.8 L126.37 644.6 L127.52 645.28 Z" stroke-width="1.6" fill="#fff" />
<path d="M130.21 644.87 L131.06 645.11 L131.95 645.24 L132.85 645.27 L133.74 645.19 L134.59 645.01 L135.38 644.73 L136.07 644.36 L136.65 643.91 L137.11 643.4 L137.42 642.84 L137.57 642.25 L137.58 641.64 L137.42 641.04 L137.11 640.46 L136.66 639.92 L136.08 639.44 L135.38 639.03 L134.6 638.7 L133.75 638.46 L132.86 638.33 L131.96 638.3 L131.06 638.38 L130.21 638.56 L129.43 638.84 L128.74 639.21 L128.15 639.66 L127.7 640.17 L127.39 640.73 L127.23 641.32 L127.23 641.93 L127.39 642.53 L127.7 643.11 L128.15 643.65 L128.73 644.13 L129.42 644.54 Z" stroke-width="0" fill="#000" stroke="none"/>
<path d="M132.15 642.14 L132.4 642.2 L132.65 642.24 L132.91 642.25 L133.16 642.23 L133.41 642.18 L133.63 642.1 L133.83 641.99 L133.99 641.86 L134.12 641.72 L134.21 641.56 L134.26 641.39 L134.26 641.22 L134.21 641.04 L134.12 640.88 L134 640.72 L133.83 640.59 L133.63 640.47 L133.41 640.37 L133.17 640.31 L132.91 640.27 L132.65 640.26 L132.4 640.28 L132.15 640.33 L131.93 640.41 L131.73 640.52 L131.57 640.65 L131.44 640.79 L131.35 640.95 L131.3 641.12 L131.3 641.3 L131.35 641.47 L131.44 641.63 L131.56 641.79 L131.73 641.93 L131.93 642.04 Z" stroke-width="0" fill="#aaa" stroke="none"/>
<path d="M205.7895 667.9423100000001 L206.48950000000002 676.9423100000001 C208.08950000000002 680.9423100000001, 215.08950000000002 680.9423100000001, 217.08950000000002 679.4423100000001 L219.58950000000002 670.4423100000001" stroke-width="1.6" fill="#fff" />
<path d="M209.45 673.56 L210.86 673.95 L212.33 674.17 L213.83 674.21 L215.31 674.08 L216.72 673.78 L218.02 673.32 L219.17 672.71 L220.13 671.97 L220.88 671.12 L221.4 670.19 L221.66 669.21 L221.66 668.21 L221.4 667.21 L220.89 666.25 L220.14 665.35 L219.18 664.55 L218.03 663.87 L216.73 663.33 L215.32 662.94 L213.85 662.72 L212.35 662.67 L210.87 662.8 L209.46 663.1 L208.16 663.56 L207.01 664.17 L206.05 664.91 L205.3 665.76 L204.78 666.69 L204.52 667.67 L204.52 668.68 L204.78 669.68 L205.29 670.64 L206.04 671.53 L207 672.33 L208.15 673.01 Z" stroke-width="1.6" fill="#fff" />
<path d="M210.83 672.61 L211.68 672.84 L212.57 672.97 L213.48 673 L214.37 672.93 L215.22 672.74 L216.01 672.46 L216.7 672.1 L217.28 671.65 L217.73 671.14 L218.04 670.58 L218.2 669.98 L218.2 669.38 L218.05 668.78 L217.74 668.2 L217.29 667.66 L216.71 667.17 L216.01 666.76 L215.23 666.43 L214.38 666.2 L213.49 666.07 L212.58 666.04 L211.69 666.12 L210.84 666.3 L210.06 666.58 L209.36 666.94 L208.78 667.39 L208.33 667.9 L208.02 668.46 L207.86 669.06 L207.86 669.66 L208.02 670.27 L208.32 670.85 L208.78 671.38 L209.36 671.87 L210.05 672.28 Z" stroke-width="0" fill="#000" stroke="none"/>
<path d="M212.78 669.87 L213.02 669.94 L213.28 669.98 L213.54 669.99 L213.79 669.96 L214.03 669.91 L214.26 669.83 L214.46 669.73 L214.62 669.6 L214.75 669.45 L214.84 669.29 L214.89 669.12 L214.89 668.95 L214.84 668.78 L214.75 668.61 L214.62 668.46 L214.46 668.32 L214.26 668.2 L214.04 668.11 L213.79 668.04 L213.54 668 L213.28 668 L213.03 668.02 L212.78 668.07 L212.56 668.15 L212.36 668.25 L212.19 668.38 L212.06 668.53 L211.98 668.69 L211.93 668.86 L211.93 669.03 L211.98 669.2 L212.06 669.37 L212.19 669.52 L212.36 669.66 L212.56 669.78 Z" stroke-width="0" fill="#aaa" stroke="none"/>
<path d="M137.12 653.94 L201.88 676.22" stroke-width="1.3" fill="none" />
</svg></body></html>
